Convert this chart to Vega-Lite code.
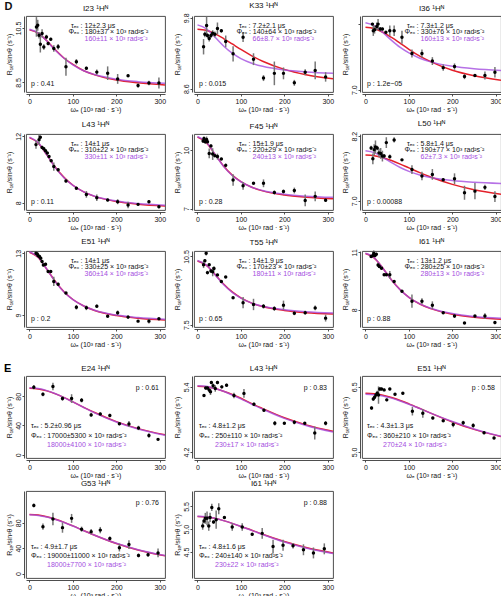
{
"$schema": "https://vega.github.io/schema/vega-lite/v6.json",
"padding": {"left": 3, "top": 1, "right": 0, "bottom": 0},
"background": "white",
"spacing": 14,
"config": {
  "font": "Liberation Sans",
  "view": {"stroke": "#3a3a3a", "strokeWidth": 0.9},
  "axis": {"grid": false, "domainColor": "#3a3a3a", "domainWidth": 0.9, "tickColor": "#3a3a3a", "tickWidth": 0.9, "tickSize": 2, "labelFontSize": 7, "labelColor": "#111", "labelPadding": 1, "titleFontSize": 7, "titleFontWeight": "normal", "titleColor": "#111", "titlePadding": 1, "offset": 2},
  "axisY": {"labelAngle": -90, "titlePadding": 2},
  "title": {"fontSize": 8, "fontWeight": "normal", "color": "#111", "offset": 3},
  "text": {"fontSize": 7, "baseline": "middle", "color": "#111"},
  "line": {"strokeWidth": 1.5, "interpolate": "monotone"},
  "circle": {"size": 12, "opacity": 1, "color": "#000"}
},
"datasets": {
"notes": [
{"p":"I23","k":"t","s":"τₑₓ : 12±2.3 μs"},{"p":"I23","k":"f","s":"Φₑₓ : 180±37 × 10³ rad²s⁻²"},{"p":"I23","k":"g","s":"160±11 × 10³ rad²s⁻²"},{"p":"I23","k":"p","s":"p : 0.41"},
{"p":"K33","k":"t","s":"τₑₓ : 7.2±2.1 μs"},{"p":"K33","k":"f","s":"Φₑₓ : 140±64 × 10³ rad²s⁻²"},{"p":"K33","k":"g","s":"66±8.7 × 10³ rad²s⁻²"},{"p":"K33","k":"p","s":"p : 0.015"},
{"p":"I36","k":"t","s":"τₑₓ : 7.3±1.2 μs"},{"p":"I36","k":"f","s":"Φₑₓ : 330±76 × 10³ rad²s⁻²"},{"p":"I36","k":"g","s":"160±13 × 10³ rad²s⁻²"},{"p":"I36","k":"p","s":"p : 1.2e−05"},
{"p":"L43","k":"t","s":"τₑₓ : 14±1 μs"},{"p":"L43","k":"f","s":"Φₑₓ : 310±22 × 10³ rad²s⁻²"},{"p":"L43","k":"g","s":"330±11 × 10³ rad²s⁻²"},{"p":"L43","k":"p","s":"p : 0.11"},
{"p":"F45","k":"t","s":"τₑₓ : 15±1.9 μs"},{"p":"F45","k":"f","s":"Φₑₓ : 220±29 × 10³ rad²s⁻²"},{"p":"F45","k":"g","s":"240±13 × 10³ rad²s⁻²"},{"p":"F45","k":"p","s":"p : 0.28"},
{"p":"L50","k":"t","s":"τₑₓ : 5.8±1.4 μs"},{"p":"L50","k":"f","s":"Φₑₓ : 190±77 × 10³ rad²s⁻²"},{"p":"L50","k":"g","s":"62±7.3 × 10³ rad²s⁻²"},{"p":"L50","k":"p","s":"p : 0.00088"},
{"p":"E51","k":"t","s":"τₑₓ : 14±1 μs"},{"p":"E51","k":"f","s":"Φₑₓ : 330±25 × 10³ rad²s⁻²"},{"p":"E51","k":"g","s":"360±14 × 10³ rad²s⁻²"},{"p":"E51","k":"p","s":"p : 0.2"},
{"p":"T55","k":"t","s":"τₑₓ : 14±1.9 μs"},{"p":"T55","k":"f","s":"Φₑₓ : 170±23 × 10³ rad²s⁻²"},{"p":"T55","k":"g","s":"180±11 × 10³ rad²s⁻²"},{"p":"T55","k":"p","s":"p : 0.65"},
{"p":"I61","k":"t","s":"τₑₓ : 13±1.2 μs"},{"p":"I61","k":"f","s":"Φₑₓ : 280±25 × 10³ rad²s⁻²"},{"p":"I61","k":"g","s":"280±13 × 10³ rad²s⁻²"},{"p":"I61","k":"p","s":"p : 0.88"},
{"p":"E24","k":"t","s":"τₑₓ : 5.2±0.96 μs"},{"p":"E24","k":"f","s":"Φₑₓ : 17000±5300 × 10³ rad²s⁻²"},{"p":"E24","k":"g","s":"18000±4100 × 10³ rad²s⁻²"},{"p":"E24","k":"p","s":"p : 0.61"},{"p":"E24","k":"L","s":"E"},
{"p":"L43e","k":"t","s":"τₑₓ : 4.8±1.2 μs"},{"p":"L43e","k":"f","s":"Φₑₓ : 250±110 × 10³ rad²s⁻²"},{"p":"L43e","k":"g","s":"230±17 × 10³ rad²s⁻²"},{"p":"L43e","k":"p","s":"p : 0.83"},
{"p":"E51e","k":"t","s":"τₑₓ : 4.3±1.3 μs"},{"p":"E51e","k":"f","s":"Φₑₓ : 360±210 × 10³ rad²s⁻²"},{"p":"E51e","k":"g","s":"270±24 × 10³ rad²s⁻²"},{"p":"E51e","k":"p","s":"p : 0.58"},
{"p":"G53","k":"t","s":"τₑₓ : 4.9±1.7 μs"},{"p":"G53","k":"f","s":"Φₑₓ : 19000±11000 × 10³ rad²s⁻²"},{"p":"G53","k":"g","s":"18000±7700 × 10³ rad²s⁻²"},{"p":"G53","k":"p","s":"p : 0.76"},
{"p":"I61e","k":"t","s":"τₑₓ : 4.8±1.6 μs"},{"p":"I61e","k":"f","s":"Φₑₓ : 240±140 × 10³ rad²s⁻²"},{"p":"I61e","k":"g","s":"230±22 × 10³ rad²s⁻²"},{"p":"I61e","k":"p","s":"p : 0.88"}
],
"pts": [
{"p":"I23","x":16,"y":10.54,"e":0.36},{"p":"I23","x":19,"y":10.6,"e":0.2},{"p":"I23","x":22,"y":10.23,"e":0.12},{"p":"I23","x":25,"y":9.9,"e":0.3},{"p":"I23","x":29,"y":10.3,"e":0.15},{"p":"I23","x":33,"y":9.8,"e":0.1},{"p":"I23","x":39,"y":10.17,"e":0.08},{"p":"I23","x":43,"y":9.93,"e":0.06},{"p":"I23","x":49,"y":10.09,"e":0.05},{"p":"I23","x":56,"y":9.75,"e":0.12},{"p":"I23","x":66,"y":9.81,"e":0.1},{"p":"I23","x":84,"y":9.08,"e":0.33},{"p":"I23","x":108,"y":9.26,"e":0.1},{"p":"I23","x":131,"y":9.02,"e":0.06},{"p":"I23","x":155,"y":8.88,"e":0.1},{"p":"I23","x":180,"y":8.84,"e":0.25},{"p":"I23","x":203,"y":8.63,"e":0.18},{"p":"I23","x":227,"y":8.75,"e":0.05},{"p":"I23","x":250,"y":8.39,"e":0.08},{"p":"I23","x":275,"y":8.48,"e":0.08},{"p":"I23","x":298,"y":8.48,"e":0.2},
{"p":"K33","x":14,"y":9.31,"e":0.13},{"p":"K33","x":17,"y":9.52,"e":0.05},{"p":"K33","x":21,"y":9.67,"e":0.15},{"p":"K33","x":23,"y":9.5,"e":0.04},{"p":"K33","x":27,"y":9.45,"e":0.05},{"p":"K33","x":31,"y":9.5,"e":0.04},{"p":"K33","x":35,"y":9.54,"e":0.05},{"p":"K33","x":40,"y":9.52,"e":0.05},{"p":"K33","x":46,"y":9.62,"e":0.1},{"p":"K33","x":55,"y":9.58,"e":0.03},{"p":"K33","x":65,"y":9.4,"e":0.1},{"p":"K33","x":82,"y":9.19,"e":0.13},{"p":"K33","x":105,"y":9.47,"e":0.08},{"p":"K33","x":129,"y":9.1,"e":0.1},{"p":"K33","x":152,"y":8.78,"e":0.05},{"p":"K33","x":177,"y":8.86,"e":0.2},{"p":"K33","x":198,"y":8.86,"e":0.1},{"p":"K33","x":223,"y":8.7,"e":0.05},{"p":"K33","x":248,"y":8.88,"e":0.05},{"p":"K33","x":271,"y":8.91,"e":0.15},{"p":"K33","x":295,"y":8.8,"e":0.08},
{"p":"I36","x":16,"y":9.5,"e":0.05},{"p":"I36","x":18,"y":9.25,"e":0.2},{"p":"I36","x":21,"y":9.29,"e":0.15},{"p":"I36","x":26,"y":9.41,"e":0.15},{"p":"I36","x":29,"y":9.5,"e":0.2},{"p":"I36","x":34,"y":9.31,"e":0.08},{"p":"I36","x":39,"y":9.31,"e":0.06},{"p":"I36","x":47,"y":9.19,"e":0.05},{"p":"I36","x":56,"y":9.25,"e":0.2},{"p":"I36","x":66,"y":9.25,"e":0.2},{"p":"I36","x":84,"y":9.0,"e":0.25},{"p":"I36","x":107,"y":8.38,"e":0.15},{"p":"I36","x":130,"y":8.38,"e":0.15},{"p":"I36","x":154,"y":8.09,"e":0.15},{"p":"I36","x":179,"y":7.84,"e":0.12},{"p":"I36","x":205,"y":7.88,"e":0.12},{"p":"I36","x":228,"y":7.5,"e":0.1},{"p":"I36","x":252,"y":7.54,"e":0.04},{"p":"I36","x":275,"y":7.54,"e":0.15},{"p":"I36","x":298,"y":7.66,"e":0.2},
{"p":"L43","x":15,"y":11.5,"e":0.25},{"p":"L43","x":22,"y":11.8,"e":0.3},{"p":"L43","x":25,"y":11.94,"e":0.1},{"p":"L43","x":29,"y":11.33,"e":0.1},{"p":"L43","x":33,"y":11.25,"e":0.1},{"p":"L43","x":37,"y":11.13,"e":0.08},{"p":"L43","x":41,"y":10.99,"e":0.08},{"p":"L43","x":45,"y":10.79,"e":0.06},{"p":"L43","x":50,"y":10.53,"e":0.08},{"p":"L43","x":56,"y":10.18,"e":0.25},{"p":"L43","x":66,"y":9.98,"e":0.1},{"p":"L43","x":84,"y":9.31,"e":0.1},{"p":"L43","x":108,"y":8.87,"e":0.08},{"p":"L43","x":131,"y":8.5,"e":0.2},{"p":"L43","x":155,"y":8.3,"e":0.2},{"p":"L43","x":180,"y":8.16,"e":0.08},{"p":"L43","x":203,"y":8.06,"e":0.15},{"p":"L43","x":227,"y":7.86,"e":0.2},{"p":"L43","x":250,"y":7.9,"e":0.08},{"p":"L43","x":275,"y":8.06,"e":0.1},{"p":"L43","x":298,"y":7.76,"e":0.1},
{"p":"F45","x":13,"y":10.47,"e":0.1},{"p":"F45","x":15,"y":10.6,"e":0.1},{"p":"F45","x":18,"y":10.43,"e":0.1},{"p":"F45","x":21,"y":10.55,"e":0.15},{"p":"F45","x":23,"y":10.43,"e":0.1},{"p":"F45","x":27,"y":9.83,"e":0.25},{"p":"F45","x":31,"y":10.22,"e":0.08},{"p":"F45","x":35,"y":9.8,"e":0.3},{"p":"F45","x":40,"y":9.72,"e":0.1},{"p":"F45","x":46,"y":9.67,"e":0.15},{"p":"F45","x":55,"y":9.55,"e":0.06},{"p":"F45","x":65,"y":9.22,"e":0.1},{"p":"F45","x":82,"y":8.47,"e":0.3},{"p":"F45","x":105,"y":8.17,"e":0.2},{"p":"F45","x":129,"y":8.3,"e":0.05},{"p":"F45","x":152,"y":8.3,"e":0.2},{"p":"F45","x":177,"y":7.83,"e":0.1},{"p":"F45","x":198,"y":7.88,"e":0.1},{"p":"F45","x":223,"y":7.93,"e":0.15},{"p":"F45","x":248,"y":7.42,"e":0.3},{"p":"F45","x":271,"y":7.63,"e":0.25},{"p":"F45","x":295,"y":7.43,"e":0.08},
{"p":"L50","x":13,"y":7.98,"e":0.04},{"p":"L50","x":17,"y":7.78,"e":0.1},{"p":"L50","x":20,"y":7.95,"e":0.1},{"p":"L50","x":23,"y":8.0,"e":0.12},{"p":"L50","x":27,"y":7.98,"e":0.04},{"p":"L50","x":31,"y":7.89,"e":0.08},{"p":"L50","x":35,"y":7.88,"e":0.1},{"p":"L50","x":39,"y":7.83,"e":0.1},{"p":"L50","x":43,"y":7.83,"e":0.04},{"p":"L50","x":48,"y":8.08,"e":0.1},{"p":"L50","x":56,"y":7.82,"e":0.04},{"p":"L50","x":66,"y":8.13,"e":0.05},{"p":"L50","x":84,"y":7.76,"e":0.02},{"p":"L50","x":107,"y":7.58,"e":0.08},{"p":"L50","x":130,"y":7.46,"e":0.08},{"p":"L50","x":154,"y":7.49,"e":0.1},{"p":"L50","x":179,"y":7.39,"e":0.03},{"p":"L50","x":205,"y":7.41,"e":0.1},{"p":"L50","x":228,"y":7.15,"e":0.13},{"p":"L50","x":252,"y":7.18,"e":0.15},{"p":"L50","x":275,"y":7.25,"e":0.05},{"p":"L50","x":298,"y":7.08,"e":0.1},
{"p":"E51","x":15,"y":13.0,"e":0.1},{"p":"E51","x":18,"y":12.95,"e":0.1},{"p":"E51","x":20,"y":12.85,"e":0.1},{"p":"E51","x":23,"y":12.79,"e":0.1},{"p":"E51","x":26,"y":12.68,"e":0.1},{"p":"E51","x":29,"y":12.47,"e":0.1},{"p":"E51","x":32,"y":12.25,"e":0.1},{"p":"E51","x":37,"y":12.29,"e":0.1},{"p":"E51","x":43,"y":11.82,"e":0.06},{"p":"E51","x":49,"y":11.82,"e":0.06},{"p":"E51","x":56,"y":11.18,"e":0.3},{"p":"E51","x":66,"y":11.0,"e":0.1},{"p":"E51","x":84,"y":10.43,"e":0.06},{"p":"E51","x":108,"y":9.51,"e":0.15},{"p":"E51","x":131,"y":9.47,"e":0.15},{"p":"E51","x":155,"y":9.58,"e":0.1},{"p":"E51","x":180,"y":8.93,"e":0.06},{"p":"E51","x":203,"y":9.15,"e":0.15},{"p":"E51","x":227,"y":8.87,"e":0.12},{"p":"E51","x":250,"y":8.61,"e":0.08},{"p":"E51","x":275,"y":8.61,"e":0.15},{"p":"E51","x":298,"y":8.76,"e":0.05},
{"p":"T55","x":14,"y":10.14,"e":0.15},{"p":"T55","x":17,"y":10.31,"e":0.08},{"p":"T55","x":20,"y":10.64,"e":0.1},{"p":"T55","x":23,"y":9.79,"e":0.08},{"p":"T55","x":27,"y":10.14,"e":0.05},{"p":"T55","x":31,"y":9.86,"e":0.08},{"p":"T55","x":35,"y":9.83,"e":0.2},{"p":"T55","x":38,"y":9.97,"e":0.1},{"p":"T55","x":46,"y":9.69,"e":0.05},{"p":"T55","x":55,"y":9.4,"e":0.05},{"p":"T55","x":65,"y":9.6,"e":0.04},{"p":"T55","x":82,"y":8.69,"e":0.04},{"p":"T55","x":105,"y":8.47,"e":0.25},{"p":"T55","x":129,"y":8.39,"e":0.25},{"p":"T55","x":152,"y":8.31,"e":0.1},{"p":"T55","x":177,"y":8.21,"e":0.1},{"p":"T55","x":198,"y":8.36,"e":0.2},{"p":"T55","x":223,"y":8.0,"e":0.08},{"p":"T55","x":248,"y":8.03,"e":0.08},{"p":"T55","x":271,"y":8.24,"e":0.1},{"p":"T55","x":295,"y":7.79,"e":0.15},
{"p":"I61","x":13,"y":10.78,"e":0.08},{"p":"I61","x":17,"y":10.83,"e":0.08},{"p":"I61","x":19,"y":10.95,"e":0.15},{"p":"I61","x":22,"y":10.83,"e":0.08},{"p":"I61","x":25,"y":10.9,"e":0.08},{"p":"I61","x":29,"y":10.34,"e":0.1},{"p":"I61","x":32,"y":10.26,"e":0.08},{"p":"I61","x":37,"y":10.17,"e":0.08},{"p":"I61","x":43,"y":9.83,"e":0.06},{"p":"I61","x":48,"y":9.83,"e":0.06},{"p":"I61","x":56,"y":9.83,"e":0.2},{"p":"I61","x":66,"y":9.48,"e":0.05},{"p":"I61","x":84,"y":8.97,"e":0.05},{"p":"I61","x":107,"y":8.45,"e":0.35},{"p":"I61","x":130,"y":8.45,"e":0.15},{"p":"I61","x":154,"y":8.24,"e":0.2},{"p":"I61","x":179,"y":7.84,"e":0.05},{"p":"I61","x":205,"y":7.67,"e":0.1},{"p":"I61","x":228,"y":7.31,"e":0.03},{"p":"I61","x":252,"y":7.67,"e":0.06},{"p":"I61","x":275,"y":7.67,"e":0.15},{"p":"I61","x":298,"y":7.33,"e":0.08},
{"p":"E24","x":10,"y":92.4,"e":3},{"p":"E24","x":31,"y":82.6,"e":2.5},{"p":"E24","x":54,"y":93.3,"e":5},{"p":"E24","x":76,"y":76.8,"e":3},{"p":"E24","x":97,"y":76.8,"e":6},{"p":"E24","x":120,"y":74.6,"e":3},{"p":"E24","x":142,"y":54.5,"e":3},{"p":"E24","x":163,"y":55.8,"e":2},{"p":"E24","x":185,"y":53.6,"e":2.5},{"p":"E24","x":207,"y":42.4,"e":2},{"p":"E24","x":229,"y":42,"e":4},{"p":"E24","x":251,"y":36.6,"e":3},{"p":"E24","x":275,"y":26.3,"e":3},{"p":"E24","x":296,"y":21,"e":1.5},
{"p":"L43e","x":15,"y":5.24,"e":0.02},{"p":"L43e","x":19,"y":5.38,"e":0.03},{"p":"L43e","x":23,"y":5.38,"e":0.03},{"p":"L43e","x":27,"y":5.34,"e":0.04},{"p":"L43e","x":30,"y":5.31,"e":0.06},{"p":"L43e","x":32,"y":5.48,"e":0.03},{"p":"L43e","x":36,"y":5.42,"e":0.04},{"p":"L43e","x":41,"y":5.37,"e":0.06},{"p":"L43e","x":46,"y":5.48,"e":0.03},{"p":"L43e","x":56,"y":5.4,"e":0.03},{"p":"L43e","x":67,"y":5.43,"e":0.03},{"p":"L43e","x":84,"y":5.24,"e":0.05},{"p":"L43e","x":107,"y":5.28,"e":0.08},{"p":"L43e","x":130,"y":5.08,"e":0.03},{"p":"L43e","x":153,"y":4.97,"e":0.03},{"p":"L43e","x":178,"y":4.73,"e":0.04},{"p":"L43e","x":200,"y":4.73,"e":0.02},{"p":"L43e","x":223,"y":4.75,"e":0.04},{"p":"L43e","x":247,"y":4.73,"e":0.02},{"p":"L43e","x":270,"y":4.55,"e":0.12},{"p":"L43e","x":295,"y":4.73,"e":0.04},
{"p":"E51e","x":14,"y":6.01,"e":0.04},{"p":"E51e","x":18,"y":6.22,"e":0.04},{"p":"E51e","x":21,"y":6.26,"e":0.04},{"p":"E51e","x":24,"y":6.31,"e":0.04},{"p":"E51e","x":27,"y":6.35,"e":0.06},{"p":"E51e","x":30,"y":6.31,"e":0.2},{"p":"E51e","x":33,"y":6.45,"e":0.04},{"p":"E51e","x":37,"y":6.45,"e":0.03},{"p":"E51e","x":43,"y":6.43,"e":0.03},{"p":"E51e","x":49,"y":6.2,"e":0.03},{"p":"E51e","x":56,"y":6.45,"e":0.03},{"p":"E51e","x":68,"y":6.33,"e":0.03},{"p":"E51e","x":86,"y":6.35,"e":0.03},{"p":"E51e","x":108,"y":5.94,"e":0.1},{"p":"E51e","x":132,"y":5.89,"e":0.1},{"p":"E51e","x":155,"y":5.78,"e":0.03},{"p":"E51e","x":179,"y":5.72,"e":0.03},{"p":"E51e","x":202,"y":5.63,"e":0.06},{"p":"E51e","x":225,"y":5.67,"e":0.05},{"p":"E51e","x":248,"y":5.61,"e":0.05},{"p":"E51e","x":273,"y":5.44,"e":0.03},{"p":"E51e","x":296,"y":5.32,"e":0.03},
{"p":"G53","x":10,"y":107.3,"e":3},{"p":"G53","x":31,"y":73.8,"e":5},{"p":"G53","x":54,"y":85.9,"e":10},{"p":"G53","x":76,"y":72.3,"e":8},{"p":"G53","x":97,"y":86.9,"e":7},{"p":"G53","x":120,"y":69.9,"e":4},{"p":"G53","x":142,"y":66,"e":4},{"p":"G53","x":163,"y":68.4,"e":5},{"p":"G53","x":185,"y":55.3,"e":3},{"p":"G53","x":207,"y":40.8,"e":6},{"p":"G53","x":229,"y":45.6,"e":7},{"p":"G53","x":251,"y":28.6,"e":3},{"p":"G53","x":273,"y":29.6,"e":3},{"p":"G53","x":296,"y":32.5,"e":7},
{"p":"I61e","x":12,"y":5.07,"e":0.08},{"p":"I61e","x":15,"y":5.18,"e":0.05},{"p":"I61e","x":18,"y":5.24,"e":0.12},{"p":"I61e","x":22,"y":5.24,"e":0.15},{"p":"I61e","x":26,"y":5.07,"e":0.1},{"p":"I61e","x":29,"y":5.26,"e":0.1},{"p":"I61e","x":33,"y":5.48,"e":0.08},{"p":"I61e","x":37,"y":5.16,"e":0.04},{"p":"I61e","x":43,"y":5.21,"e":0.2},{"p":"I61e","x":49,"y":5.45,"e":0.12},{"p":"I61e","x":62,"y":5.26,"e":0.03},{"p":"I61e","x":80,"y":5.05,"e":0.08},{"p":"I61e","x":103,"y":5.05,"e":0.08},{"p":"I61e","x":126,"y":4.89,"e":0.03},{"p":"I61e","x":149,"y":4.91,"e":0.12},{"p":"I61e","x":174,"y":4.62,"e":0.15},{"p":"I61e","x":197,"y":4.65,"e":0.12},{"p":"I61e","x":220,"y":4.64,"e":0.06},{"p":"I61e","x":244,"y":4.55,"e":0.12},{"p":"I61e","x":267,"y":4.48,"e":0.12},{"p":"I61e","x":292,"y":4.57,"e":0.12}
],
"fit": [
{"p":"I23","m":"a","x":0,"y":10.43},{"p":"I23","m":"a","x":20,"y":10.31},{"p":"I23","m":"a","x":40,"y":10.03},{"p":"I23","m":"a","x":60,"y":9.69},{"p":"I23","m":"a","x":80,"y":9.39},{"p":"I23","m":"a","x":100,"y":9.16},{"p":"I23","m":"a","x":125,"y":8.93},{"p":"I23","m":"a","x":150,"y":8.78},{"p":"I23","m":"a","x":200,"y":8.59},{"p":"I23","m":"a","x":250,"y":8.49},{"p":"I23","m":"a","x":312,"y":8.41},
{"p":"I23","m":"b","x":0,"y":10.45},{"p":"I23","m":"b","x":20,"y":10.32},{"p":"I23","m":"b","x":40,"y":10.02},{"p":"I23","m":"b","x":60,"y":9.67},{"p":"I23","m":"b","x":80,"y":9.38},{"p":"I23","m":"b","x":100,"y":9.15},{"p":"I23","m":"b","x":125,"y":8.93},{"p":"I23","m":"b","x":150,"y":8.79},{"p":"I23","m":"b","x":200,"y":8.62},{"p":"I23","m":"b","x":250,"y":8.53},{"p":"I23","m":"b","x":312,"y":8.47},
{"p":"K33","m":"a","x":0,"y":9.608},{"p":"K33","m":"a","x":20,"y":9.588},{"p":"K33","m":"a","x":40,"y":9.531},{"p":"K33","m":"a","x":60,"y":9.449},{"p":"K33","m":"a","x":80,"y":9.357},{"p":"K33","m":"a","x":100,"y":9.264},{"p":"K33","m":"a","x":125,"y":9.157},{"p":"K33","m":"a","x":150,"y":9.065},{"p":"K33","m":"a","x":200,"y":8.928},{"p":"K33","m":"a","x":250,"y":8.838},{"p":"K33","m":"a","x":312,"y":8.767},
{"p":"K33","m":"b","x":0,"y":9.68},{"p":"K33","m":"b","x":20,"y":9.617},{"p":"K33","m":"b","x":40,"y":9.475},{"p":"K33","m":"b","x":60,"y":9.324},{"p":"K33","m":"b","x":80,"y":9.201},{"p":"K33","m":"b","x":100,"y":9.11},{"p":"K33","m":"b","x":125,"y":9.032},{"p":"K33","m":"b","x":150,"y":8.979},{"p":"K33","m":"b","x":200,"y":8.917},{"p":"K33","m":"b","x":250,"y":8.885},{"p":"K33","m":"b","x":312,"y":8.863},
{"p":"I36","m":"a","x":0,"y":9.38},{"p":"I36","m":"a","x":20,"y":9.33},{"p":"I36","m":"a","x":40,"y":9.19},{"p":"I36","m":"a","x":60,"y":8.99},{"p":"I36","m":"a","x":80,"y":8.77},{"p":"I36","m":"a","x":100,"y":8.54},{"p":"I36","m":"a","x":125,"y":8.28},{"p":"I36","m":"a","x":150,"y":8.07},{"p":"I36","m":"a","x":200,"y":7.74},{"p":"I36","m":"a","x":250,"y":7.53},{"p":"I36","m":"a","x":312,"y":7.36},
{"p":"I36","m":"b","x":0,"y":9.55},{"p":"I36","m":"b","x":20,"y":9.44},{"p":"I36","m":"b","x":40,"y":9.18},{"p":"I36","m":"b","x":60,"y":8.88},{"p":"I36","m":"b","x":80,"y":8.61},{"p":"I36","m":"b","x":100,"y":8.40},{"p":"I36","m":"b","x":125,"y":8.20},{"p":"I36","m":"b","x":150,"y":8.06},{"p":"I36","m":"b","x":200,"y":7.89},{"p":"I36","m":"b","x":250,"y":7.795},{"p":"I36","m":"b","x":312,"y":7.73},
{"p":"L43","m":"a","x":0,"y":11.92},{"p":"L43","m":"a","x":20,"y":11.6},{"p":"L43","m":"a","x":40,"y":10.88},{"p":"L43","m":"a","x":60,"y":10.12},{"p":"L43","m":"a","x":80,"y":9.51},{"p":"L43","m":"a","x":100,"y":9.05},{"p":"L43","m":"a","x":125,"y":8.65},{"p":"L43","m":"a","x":150,"y":8.38},{"p":"L43","m":"a","x":200,"y":8.07},{"p":"L43","m":"a","x":250,"y":7.91},{"p":"L43","m":"a","x":312,"y":7.8},
{"p":"L43","m":"b","x":0,"y":11.95},{"p":"L43","m":"b","x":20,"y":11.62},{"p":"L43","m":"b","x":40,"y":10.88},{"p":"L43","m":"b","x":60,"y":10.1},{"p":"L43","m":"b","x":80,"y":9.49},{"p":"L43","m":"b","x":100,"y":9.04},{"p":"L43","m":"b","x":125,"y":8.65},{"p":"L43","m":"b","x":150,"y":8.39},{"p":"L43","m":"b","x":200,"y":8.1},{"p":"L43","m":"b","x":250,"y":7.95},{"p":"L43","m":"b","x":312,"y":7.85},
{"p":"F45","m":"a","x":0,"y":10.67},{"p":"F45","m":"a","x":20,"y":10.4},{"p":"F45","m":"a","x":40,"y":9.8},{"p":"F45","m":"a","x":60,"y":9.19},{"p":"F45","m":"a","x":80,"y":8.72},{"p":"F45","m":"a","x":100,"y":8.39},{"p":"F45","m":"a","x":125,"y":8.1},{"p":"F45","m":"a","x":150,"y":7.91},{"p":"F45","m":"a","x":200,"y":7.7},{"p":"F45","m":"a","x":250,"y":7.59},{"p":"F45","m":"a","x":312,"y":7.51},
{"p":"F45","m":"b","x":0,"y":10.7},{"p":"F45","m":"b","x":20,"y":10.42},{"p":"F45","m":"b","x":40,"y":9.8},{"p":"F45","m":"b","x":60,"y":9.17},{"p":"F45","m":"b","x":80,"y":8.7},{"p":"F45","m":"b","x":100,"y":8.38},{"p":"F45","m":"b","x":125,"y":8.1},{"p":"F45","m":"b","x":150,"y":7.93},{"p":"F45","m":"b","x":200,"y":7.74},{"p":"F45","m":"b","x":250,"y":7.64},{"p":"F45","m":"b","x":312,"y":7.58},
{"p":"L50","m":"a","x":0,"y":7.85},{"p":"L50","m":"a","x":20,"y":7.837},{"p":"L50","m":"a","x":40,"y":7.8},{"p":"L50","m":"a","x":60,"y":7.747},{"p":"L50","m":"a","x":80,"y":7.682},{"p":"L50","m":"a","x":100,"y":7.611},{"p":"L50","m":"a","x":125,"y":7.523},{"p":"L50","m":"a","x":150,"y":7.441},{"p":"L50","m":"a","x":200,"y":7.305},{"p":"L50","m":"a","x":250,"y":7.206},{"p":"L50","m":"a","x":312,"y":7.122},
{"p":"L50","m":"b","x":0,"y":7.93},{"p":"L50","m":"b","x":20,"y":7.895},{"p":"L50","m":"b","x":40,"y":7.808},{"p":"L50","m":"b","x":60,"y":7.708},{"p":"L50","m":"b","x":80,"y":7.618},{"p":"L50","m":"b","x":100,"y":7.546},{"p":"L50","m":"b","x":125,"y":7.48},{"p":"L50","m":"b","x":150,"y":7.433},{"p":"L50","m":"b","x":200,"y":7.376},{"p":"L50","m":"b","x":250,"y":7.345},{"p":"L50","m":"b","x":312,"y":7.323},
{"p":"E51","m":"a","x":0,"y":13.07},{"p":"E51","m":"a","x":20,"y":12.73},{"p":"E51","m":"a","x":40,"y":11.97},{"p":"E51","m":"a","x":60,"y":11.16},{"p":"E51","m":"a","x":80,"y":10.5},{"p":"E51","m":"a","x":100,"y":10.01},{"p":"E51","m":"a","x":125,"y":9.59},{"p":"E51","m":"a","x":150,"y":9.3},{"p":"E51","m":"a","x":200,"y":8.97},{"p":"E51","m":"a","x":250,"y":8.8},{"p":"E51","m":"a","x":312,"y":8.68},
{"p":"E51","m":"b","x":0,"y":13.1},{"p":"E51","m":"b","x":20,"y":12.75},{"p":"E51","m":"b","x":40,"y":11.97},{"p":"E51","m":"b","x":60,"y":11.14},{"p":"E51","m":"b","x":80,"y":10.48},{"p":"E51","m":"b","x":100,"y":10.0},{"p":"E51","m":"b","x":125,"y":9.59},{"p":"E51","m":"b","x":150,"y":9.31},{"p":"E51","m":"b","x":200,"y":9.0},{"p":"E51","m":"b","x":250,"y":8.84},{"p":"E51","m":"b","x":312,"y":8.73},
{"p":"T55","m":"a","x":0,"y":10.3},{"p":"T55","m":"a","x":20,"y":10.12},{"p":"T55","m":"a","x":40,"y":9.72},{"p":"T55","m":"a","x":60,"y":9.29},{"p":"T55","m":"a","x":80,"y":8.94},{"p":"T55","m":"a","x":100,"y":8.68},{"p":"T55","m":"a","x":125,"y":8.45},{"p":"T55","m":"a","x":150,"y":8.3},{"p":"T55","m":"a","x":200,"y":8.13},{"p":"T55","m":"a","x":250,"y":8.03},{"p":"T55","m":"a","x":312,"y":7.97},
{"p":"T55","m":"b","x":0,"y":10.32},{"p":"T55","m":"b","x":20,"y":10.13},{"p":"T55","m":"b","x":40,"y":9.71},{"p":"T55","m":"b","x":60,"y":9.27},{"p":"T55","m":"b","x":80,"y":8.92},{"p":"T55","m":"b","x":100,"y":8.67},{"p":"T55","m":"b","x":125,"y":8.45},{"p":"T55","m":"b","x":150,"y":8.31},{"p":"T55","m":"b","x":200,"y":8.16},{"p":"T55","m":"b","x":250,"y":8.07},{"p":"T55","m":"b","x":312,"y":8.01},
{"p":"I61","m":"a","x":0,"y":10.94},{"p":"I61","m":"a","x":20,"y":10.71},{"p":"I61","m":"a","x":40,"y":10.17},{"p":"I61","m":"a","x":60,"y":9.56},{"p":"I61","m":"a","x":80,"y":9.05},{"p":"I61","m":"a","x":100,"y":8.65},{"p":"I61","m":"a","x":125,"y":8.3},{"p":"I61","m":"a","x":150,"y":8.06},{"p":"I61","m":"a","x":200,"y":7.77},{"p":"I61","m":"a","x":250,"y":7.61},{"p":"I61","m":"a","x":312,"y":7.51},
{"p":"I61","m":"b","x":0,"y":10.95},{"p":"I61","m":"b","x":20,"y":10.72},{"p":"I61","m":"b","x":40,"y":10.17},{"p":"I61","m":"b","x":60,"y":9.55},{"p":"I61","m":"b","x":80,"y":9.04},{"p":"I61","m":"b","x":100,"y":8.65},{"p":"I61","m":"b","x":125,"y":8.31},{"p":"I61","m":"b","x":150,"y":8.08},{"p":"I61","m":"b","x":200,"y":7.8},{"p":"I61","m":"b","x":250,"y":7.65},{"p":"I61","m":"b","x":312,"y":7.56},
{"p":"E24","m":"a","x":0,"y":91},{"p":"E24","m":"a","x":20,"y":90.06},{"p":"E24","m":"a","x":40,"y":87.35},{"p":"E24","m":"a","x":60,"y":83.19},{"p":"E24","m":"a","x":80,"y":78.02},{"p":"E24","m":"a","x":100,"y":72.27},{"p":"E24","m":"a","x":125,"y":64.86},{"p":"E24","m":"a","x":150,"y":57.71},{"p":"E24","m":"a","x":200,"y":45.28},{"p":"E24","m":"a","x":250,"y":35.71},{"p":"E24","m":"a","x":312,"y":27.2},
{"p":"E24","m":"b","x":0,"y":91.5},{"p":"E24","m":"b","x":20,"y":90.5},{"p":"E24","m":"b","x":40,"y":87.7},{"p":"E24","m":"b","x":60,"y":83.4},{"p":"E24","m":"b","x":80,"y":78.1},{"p":"E24","m":"b","x":100,"y":72.2},{"p":"E24","m":"b","x":125,"y":64.6},{"p":"E24","m":"b","x":150,"y":57.3},{"p":"E24","m":"b","x":200,"y":44.7},{"p":"E24","m":"b","x":250,"y":35.1},{"p":"E24","m":"b","x":312,"y":26.6},
{"p":"L43e","m":"a","x":0,"y":5.41},{"p":"L43e","m":"a","x":20,"y":5.4},{"p":"L43e","m":"a","x":40,"y":5.37},{"p":"L43e","m":"a","x":60,"y":5.32},{"p":"L43e","m":"a","x":80,"y":5.26},{"p":"L43e","m":"a","x":100,"y":5.19},{"p":"L43e","m":"a","x":125,"y":5.09},{"p":"L43e","m":"a","x":150,"y":5.0},{"p":"L43e","m":"a","x":200,"y":4.83},{"p":"L43e","m":"a","x":250,"y":4.7},{"p":"L43e","m":"a","x":312,"y":4.58},
{"p":"L43e","m":"b","x":0,"y":5.42},{"p":"L43e","m":"b","x":20,"y":5.41},{"p":"L43e","m":"b","x":40,"y":5.37},{"p":"L43e","m":"b","x":60,"y":5.32},{"p":"L43e","m":"b","x":80,"y":5.25},{"p":"L43e","m":"b","x":100,"y":5.18},{"p":"L43e","m":"b","x":125,"y":5.08},{"p":"L43e","m":"b","x":150,"y":4.99},{"p":"L43e","m":"b","x":200,"y":4.82},{"p":"L43e","m":"b","x":250,"y":4.69},{"p":"L43e","m":"b","x":312,"y":4.57},
{"p":"E51e","m":"a","x":0,"y":6.35},{"p":"E51e","m":"a","x":20,"y":6.339},{"p":"E51e","m":"a","x":40,"y":6.306},{"p":"E51e","m":"a","x":60,"y":6.253},{"p":"E51e","m":"a","x":80,"y":6.186},{"p":"E51e","m":"a","x":100,"y":6.108},{"p":"E51e","m":"a","x":125,"y":6.003},{"p":"E51e","m":"a","x":150,"y":5.895},{"p":"E51e","m":"a","x":200,"y":5.691},{"p":"E51e","m":"a","x":250,"y":5.519},{"p":"E51e","m":"a","x":312,"y":5.353},
{"p":"E51e","m":"b","x":0,"y":6.33},{"p":"E51e","m":"b","x":20,"y":6.32},{"p":"E51e","m":"b","x":40,"y":6.29},{"p":"E51e","m":"b","x":60,"y":6.24},{"p":"E51e","m":"b","x":80,"y":6.175},{"p":"E51e","m":"b","x":100,"y":6.1},{"p":"E51e","m":"b","x":125,"y":6.0},{"p":"E51e","m":"b","x":150,"y":5.895},{"p":"E51e","m":"b","x":200,"y":5.7},{"p":"E51e","m":"b","x":250,"y":5.53},{"p":"E51e","m":"b","x":312,"y":5.36},
{"p":"G53","m":"a","x":0,"y":93},{"p":"G53","m":"a","x":20,"y":92.1},{"p":"G53","m":"a","x":40,"y":89.6},{"p":"G53","m":"a","x":60,"y":85.6},{"p":"G53","m":"a","x":80,"y":80.6},{"p":"G53","m":"a","x":100,"y":75.0},{"p":"G53","m":"a","x":125,"y":67.6},{"p":"G53","m":"a","x":150,"y":60.4},{"p":"G53","m":"a","x":200,"y":47.4},{"p":"G53","m":"a","x":250,"y":37.2},{"p":"G53","m":"a","x":312,"y":27.9},
{"p":"G53","m":"b","x":0,"y":92.5},{"p":"G53","m":"b","x":20,"y":91.6},{"p":"G53","m":"b","x":40,"y":89.1},{"p":"G53","m":"b","x":60,"y":85.2},{"p":"G53","m":"b","x":80,"y":80.3},{"p":"G53","m":"b","x":100,"y":74.8},{"p":"G53","m":"b","x":125,"y":67.5},{"p":"G53","m":"b","x":150,"y":60.4},{"p":"G53","m":"b","x":200,"y":47.6},{"p":"G53","m":"b","x":250,"y":37.5},{"p":"G53","m":"b","x":312,"y":28.3},
{"p":"I61e","m":"a","x":0,"y":5.28},{"p":"I61e","m":"a","x":20,"y":5.27},{"p":"I61e","m":"a","x":40,"y":5.24},{"p":"I61e","m":"a","x":60,"y":5.19},{"p":"I61e","m":"a","x":80,"y":5.13},{"p":"I61e","m":"a","x":100,"y":5.06},{"p":"I61e","m":"a","x":125,"y":4.98},{"p":"I61e","m":"a","x":150,"y":4.89},{"p":"I61e","m":"a","x":200,"y":4.73},{"p":"I61e","m":"a","x":250,"y":4.6},{"p":"I61e","m":"a","x":312,"y":4.48},
{"p":"I61e","m":"b","x":0,"y":5.285},{"p":"I61e","m":"b","x":20,"y":5.275},{"p":"I61e","m":"b","x":40,"y":5.24},{"p":"I61e","m":"b","x":60,"y":5.19},{"p":"I61e","m":"b","x":80,"y":5.13},{"p":"I61e","m":"b","x":100,"y":5.06},{"p":"I61e","m":"b","x":125,"y":4.975},{"p":"I61e","m":"b","x":150,"y":4.885},{"p":"I61e","m":"b","x":200,"y":4.72},{"p":"I61e","m":"b","x":250,"y":4.59},{"p":"I61e","m":"b","x":312,"y":4.47}
]
},
"vconcat": [
{
"title": {"text": "D", "anchor": "start", "fontSize": 11, "fontWeight": "bold", "offset": -11},
"spacing": 6,
"vconcat": [
{"spacing": 5, "hconcat": [
{"title": "I23 ¹Hᴺ", "width": 139, "height": 76,
 "layer": [
  {"data": {"name": "fit"}, "transform": [{"filter": "datum.p == 'I23' && datum.m == 'a'"}], "mark": {"type": "line", "color": "#e3202a", "clip": true},
   "encoding": {"x": {"field": "x", "type": "quantitative", "title": "ωₑ (10³ rad · s⁻¹)", "scale": {"domain": [-8, 312]}, "axis": {"values": [0,50,100,150,200,250,300]}},
    "y": {"field": "y", "type": "quantitative", "title": "R₁ᵨ/sin²θ (s⁻¹)", "scale": {"domain": [8.15, 10.94]}, "axis": {"values": [8.5,9,9.5,10,10.5], "format": ".1f", "labelExpr": "datum.value % 1 == 0.5 ? datum.label : ''"}}}},
  {"data": {"name": "fit"}, "transform": [{"filter": "datum.p == 'I23' && datum.m == 'b'"}], "mark": {"type": "line", "color": "#a44de0", "opacity": 0.8, "clip": true}, "encoding": {"x": {"field": "x", "type": "quantitative", "title": "ωₑ (10³ rad · s⁻¹)", "scale": {"domain": [-8, 312]}}, "y": {"field": "y", "type": "quantitative", "title": "R₁ᵨ/sin²θ (s⁻¹)", "scale": {"domain": [8.15, 10.94]}}}},
  {"data": {"name": "pts"}, "transform": [{"filter": "datum.p == 'I23'"}], "mark": {"type": "errorbar", "color": "#777", "thickness": 1.5}, "encoding": {"x": {"field": "x", "type": "quantitative", "title": "ωₑ (10³ rad · s⁻¹)", "scale": {"domain": [-8, 312]}}, "y": {"field": "y", "type": "quantitative", "title": "R₁ᵨ/sin²θ (s⁻¹)", "scale": {"domain": [8.15, 10.94]}}, "yError": {"field": "e"}}},
  {"data": {"name": "pts"}, "transform": [{"filter": "datum.p == 'I23'"}], "mark": {"type": "circle"}, "encoding": {"x": {"field": "x", "type": "quantitative", "title": "ωₑ (10³ rad · s⁻¹)", "scale": {"domain": [-8, 312]}}, "y": {"field": "y", "type": "quantitative", "title": "R₁ᵨ/sin²θ (s⁻¹)", "scale": {"domain": [8.15, 10.94]}}}},
  {"data": {"name": "notes"}, "transform": [{"filter": "datum.p == 'I23' && datum.k == 't'"}], "mark": {"type": "text", "align": "left", "dx": 45, "dy": 9.5}, "encoding": {"text": {"field": "s"}, "x": {"datum": -8, "type": "quantitative", "title": "ωₑ (10³ rad · s⁻¹)", "scale": {"domain": [-8, 312]}}, "y": {"datum": 10.94, "type": "quantitative", "title": "R₁ᵨ/sin²θ (s⁻¹)", "scale": {"domain": [8.15, 10.94]}}}},
  {"data": {"name": "notes"}, "transform": [{"filter": "datum.p == 'I23' && datum.k == 'f'"}], "mark": {"type": "text", "align": "left", "dx": 42.5, "dy": 16.2}, "encoding": {"text": {"field": "s"}, "x": {"datum": -8, "type": "quantitative", "title": "ωₑ (10³ rad · s⁻¹)", "scale": {"domain": [-8, 312]}}, "y": {"datum": 10.94, "type": "quantitative", "title": "R₁ᵨ/sin²θ (s⁻¹)", "scale": {"domain": [8.15, 10.94]}}}},
  {"data": {"name": "notes"}, "transform": [{"filter": "datum.p == 'I23' && datum.k == 'g'"}], "mark": {"type": "text", "align": "left", "dx": 58.5, "dy": 23, "color": "#a44de0"}, "encoding": {"text": {"field": "s"}, "x": {"datum": -8, "type": "quantitative", "title": "ωₑ (10³ rad · s⁻¹)", "scale": {"domain": [-8, 312]}}, "y": {"datum": 10.94, "type": "quantitative", "title": "R₁ᵨ/sin²θ (s⁻¹)", "scale": {"domain": [8.15, 10.94]}}}},
  {"data": {"name": "notes"}, "transform": [{"filter": "datum.p == 'I23' && datum.k == 'p'"}], "mark": {"type": "text", "align": "left", "dx": 5, "dy": -8}, "encoding": {"text": {"field": "s"}, "x": {"datum": -8, "type": "quantitative", "title": "ωₑ (10³ rad · s⁻¹)", "scale": {"domain": [-8, 312]}}, "y": {"datum": 8.15, "type": "quantitative", "title": "R₁ᵨ/sin²θ (s⁻¹)", "scale": {"domain": [8.15, 10.94]}}}}
 ]},
{"title": "K33 ¹Hᴺ", "width": 139, "height": 76,
 "layer": [
  {"data": {"name": "fit"}, "transform": [{"filter": "datum.p == 'K33' && datum.m == 'a'"}], "mark": {"type": "line", "color": "#e3202a", "clip": true},
   "encoding": {"x": {"field": "x", "type": "quantitative", "title": "ωₑ (10³ rad · s⁻¹)", "scale": {"domain": [-8, 312]}, "axis": {"values": [0,50,100,150,200,250,300]}},
    "y": {"field": "y", "type": "quantitative", "title": "R₁ᵨ/sin²θ (s⁻¹)", "scale": {"domain": [8.545, 9.83]}, "axis": {"values": [8.6,8.8,9,9.2,9.4,9.6,9.8], "format": ".1f", "labelExpr": "round(datum.value * 10) % 4 == 2 ? datum.label : ''"}}}},
  {"data": {"name": "fit"}, "transform": [{"filter": "datum.p == 'K33' && datum.m == 'b'"}], "mark": {"type": "line", "color": "#a44de0", "opacity": 0.8, "clip": true}, "encoding": {"x": {"field": "x", "type": "quantitative", "title": "ωₑ (10³ rad · s⁻¹)", "scale": {"domain": [-8, 312]}}, "y": {"field": "y", "type": "quantitative", "title": "R₁ᵨ/sin²θ (s⁻¹)", "scale": {"domain": [8.545, 9.83]}}}},
  {"data": {"name": "pts"}, "transform": [{"filter": "datum.p == 'K33'"}], "mark": {"type": "errorbar", "color": "#777", "thickness": 1.5}, "encoding": {"x": {"field": "x", "type": "quantitative", "title": "ωₑ (10³ rad · s⁻¹)", "scale": {"domain": [-8, 312]}}, "y": {"field": "y", "type": "quantitative", "title": "R₁ᵨ/sin²θ (s⁻¹)", "scale": {"domain": [8.545, 9.83]}}, "yError": {"field": "e"}}},
  {"data": {"name": "pts"}, "transform": [{"filter": "datum.p == 'K33'"}], "mark": {"type": "circle"}, "encoding": {"x": {"field": "x", "type": "quantitative", "title": "ωₑ (10³ rad · s⁻¹)", "scale": {"domain": [-8, 312]}}, "y": {"field": "y", "type": "quantitative", "title": "R₁ᵨ/sin²θ (s⁻¹)", "scale": {"domain": [8.545, 9.83]}}}},
  {"data": {"name": "notes"}, "transform": [{"filter": "datum.p == 'K33' && datum.k == 't'"}], "mark": {"type": "text", "align": "left", "dx": 45, "dy": 9.5}, "encoding": {"text": {"field": "s"}, "x": {"datum": -8, "type": "quantitative", "title": "ωₑ (10³ rad · s⁻¹)", "scale": {"domain": [-8, 312]}}, "y": {"datum": 9.83, "type": "quantitative", "title": "R₁ᵨ/sin²θ (s⁻¹)", "scale": {"domain": [8.545, 9.83]}}}},
  {"data": {"name": "notes"}, "transform": [{"filter": "datum.p == 'K33' && datum.k == 'f'"}], "mark": {"type": "text", "align": "left", "dx": 42.5, "dy": 16.2}, "encoding": {"text": {"field": "s"}, "x": {"datum": -8, "type": "quantitative", "title": "ωₑ (10³ rad · s⁻¹)", "scale": {"domain": [-8, 312]}}, "y": {"datum": 9.83, "type": "quantitative", "title": "R₁ᵨ/sin²θ (s⁻¹)", "scale": {"domain": [8.545, 9.83]}}}},
  {"data": {"name": "notes"}, "transform": [{"filter": "datum.p == 'K33' && datum.k == 'g'"}], "mark": {"type": "text", "align": "left", "dx": 58.5, "dy": 23, "color": "#a44de0"}, "encoding": {"text": {"field": "s"}, "x": {"datum": -8, "type": "quantitative", "title": "ωₑ (10³ rad · s⁻¹)", "scale": {"domain": [-8, 312]}}, "y": {"datum": 9.83, "type": "quantitative", "title": "R₁ᵨ/sin²θ (s⁻¹)", "scale": {"domain": [8.545, 9.83]}}}},
  {"data": {"name": "notes"}, "transform": [{"filter": "datum.p == 'K33' && datum.k == 'p'"}], "mark": {"type": "text", "align": "left", "dx": 5, "dy": -8}, "encoding": {"text": {"field": "s"}, "x": {"datum": -8, "type": "quantitative", "title": "ωₑ (10³ rad · s⁻¹)", "scale": {"domain": [-8, 312]}}, "y": {"datum": 8.545, "type": "quantitative", "title": "R₁ᵨ/sin²θ (s⁻¹)", "scale": {"domain": [8.545, 9.83]}}}}
 ]},
{"title": "I36 ¹Hᴺ", "width": 139, "height": 76,
 "layer": [
  {"data": {"name": "fit"}, "transform": [{"filter": "datum.p == 'I36' && datum.m == 'a'"}], "mark": {"type": "line", "color": "#e3202a", "clip": true},
   "encoding": {"x": {"field": "x", "type": "quantitative", "title": "ωₑ (10³ rad · s⁻¹)", "scale": {"domain": [-8, 312]}, "axis": {"values": [0,50,100,150,200,250,300]}},
    "y": {"field": "y", "type": "quantitative", "title": "R₁ᵨ/sin²θ (s⁻¹)", "scale": {"domain": [6.91, 9.81]}, "axis": {"values": [7,7.5,8,8.5,9,9.5], "format": ".1f", "labelExpr": "datum.value % 1 == 0 ? datum.label : ''"}}}},
  {"data": {"name": "fit"}, "transform": [{"filter": "datum.p == 'I36' && datum.m == 'b'"}], "mark": {"type": "line", "color": "#a44de0", "opacity": 0.8, "clip": true}, "encoding": {"x": {"field": "x", "type": "quantitative", "title": "ωₑ (10³ rad · s⁻¹)", "scale": {"domain": [-8, 312]}}, "y": {"field": "y", "type": "quantitative", "title": "R₁ᵨ/sin²θ (s⁻¹)", "scale": {"domain": [6.91, 9.81]}}}},
  {"data": {"name": "pts"}, "transform": [{"filter": "datum.p == 'I36'"}], "mark": {"type": "errorbar", "color": "#777", "thickness": 1.5}, "encoding": {"x": {"field": "x", "type": "quantitative", "title": "ωₑ (10³ rad · s⁻¹)", "scale": {"domain": [-8, 312]}}, "y": {"field": "y", "type": "quantitative", "title": "R₁ᵨ/sin²θ (s⁻¹)", "scale": {"domain": [6.91, 9.81]}}, "yError": {"field": "e"}}},
  {"data": {"name": "pts"}, "transform": [{"filter": "datum.p == 'I36'"}], "mark": {"type": "circle"}, "encoding": {"x": {"field": "x", "type": "quantitative", "title": "ωₑ (10³ rad · s⁻¹)", "scale": {"domain": [-8, 312]}}, "y": {"field": "y", "type": "quantitative", "title": "R₁ᵨ/sin²θ (s⁻¹)", "scale": {"domain": [6.91, 9.81]}}}},
  {"data": {"name": "notes"}, "transform": [{"filter": "datum.p == 'I36' && datum.k == 't'"}], "mark": {"type": "text", "align": "left", "dx": 45, "dy": 9.5}, "encoding": {"text": {"field": "s"}, "x": {"datum": -8, "type": "quantitative", "title": "ωₑ (10³ rad · s⁻¹)", "scale": {"domain": [-8, 312]}}, "y": {"datum": 9.81, "type": "quantitative", "title": "R₁ᵨ/sin²θ (s⁻¹)", "scale": {"domain": [6.91, 9.81]}}}},
  {"data": {"name": "notes"}, "transform": [{"filter": "datum.p == 'I36' && datum.k == 'f'"}], "mark": {"type": "text", "align": "left", "dx": 42.5, "dy": 16.2}, "encoding": {"text": {"field": "s"}, "x": {"datum": -8, "type": "quantitative", "title": "ωₑ (10³ rad · s⁻¹)", "scale": {"domain": [-8, 312]}}, "y": {"datum": 9.81, "type": "quantitative", "title": "R₁ᵨ/sin²θ (s⁻¹)", "scale": {"domain": [6.91, 9.81]}}}},
  {"data": {"name": "notes"}, "transform": [{"filter": "datum.p == 'I36' && datum.k == 'g'"}], "mark": {"type": "text", "align": "left", "dx": 58.5, "dy": 23, "color": "#a44de0"}, "encoding": {"text": {"field": "s"}, "x": {"datum": -8, "type": "quantitative", "title": "ωₑ (10³ rad · s⁻¹)", "scale": {"domain": [-8, 312]}}, "y": {"datum": 9.81, "type": "quantitative", "title": "R₁ᵨ/sin²θ (s⁻¹)", "scale": {"domain": [6.91, 9.81]}}}},
  {"data": {"name": "notes"}, "transform": [{"filter": "datum.p == 'I36' && datum.k == 'p'"}], "mark": {"type": "text", "align": "left", "dx": 5, "dy": -8}, "encoding": {"text": {"field": "s"}, "x": {"datum": -8, "type": "quantitative", "title": "ωₑ (10³ rad · s⁻¹)", "scale": {"domain": [-8, 312]}}, "y": {"datum": 6.91, "type": "quantitative", "title": "R₁ᵨ/sin²θ (s⁻¹)", "scale": {"domain": [6.91, 9.81]}}}}
 ]}
]},
{"spacing": 5, "hconcat": [
{"title": "L43 ¹Hᴺ", "width": 139, "height": 76,
 "layer": [
  {"data": {"name": "fit"}, "transform": [{"filter": "datum.p == 'L43' && datum.m == 'a'"}], "mark": {"type": "line", "color": "#e3202a", "clip": true},
   "encoding": {"x": {"field": "x", "type": "quantitative", "title": "ωₑ (10³ rad · s⁻¹)", "scale": {"domain": [-8, 312]}, "axis": {"values": [0,50,100,150,200,250,300]}},
    "y": {"field": "y", "type": "quantitative", "title": "R₁ᵨ/sin²θ (s⁻¹)", "scale": {"domain": [7.56, 12.14]}, "axis": {"values": [8,9,10,11,12], "format": "d"}}}},
  {"data": {"name": "fit"}, "transform": [{"filter": "datum.p == 'L43' && datum.m == 'b'"}], "mark": {"type": "line", "color": "#a44de0", "opacity": 0.8, "clip": true}, "encoding": {"x": {"field": "x", "type": "quantitative", "title": "ωₑ (10³ rad · s⁻¹)", "scale": {"domain": [-8, 312]}}, "y": {"field": "y", "type": "quantitative", "title": "R₁ᵨ/sin²θ (s⁻¹)", "scale": {"domain": [7.56, 12.14]}}}},
  {"data": {"name": "pts"}, "transform": [{"filter": "datum.p == 'L43'"}], "mark": {"type": "errorbar", "color": "#777", "thickness": 1.5}, "encoding": {"x": {"field": "x", "type": "quantitative", "title": "ωₑ (10³ rad · s⁻¹)", "scale": {"domain": [-8, 312]}}, "y": {"field": "y", "type": "quantitative", "title": "R₁ᵨ/sin²θ (s⁻¹)", "scale": {"domain": [7.56, 12.14]}}, "yError": {"field": "e"}}},
  {"data": {"name": "pts"}, "transform": [{"filter": "datum.p == 'L43'"}], "mark": {"type": "circle"}, "encoding": {"x": {"field": "x", "type": "quantitative", "title": "ωₑ (10³ rad · s⁻¹)", "scale": {"domain": [-8, 312]}}, "y": {"field": "y", "type": "quantitative", "title": "R₁ᵨ/sin²θ (s⁻¹)", "scale": {"domain": [7.56, 12.14]}}}},
  {"data": {"name": "notes"}, "transform": [{"filter": "datum.p == 'L43' && datum.k == 't'"}], "mark": {"type": "text", "align": "left", "dx": 45, "dy": 9.5}, "encoding": {"text": {"field": "s"}, "x": {"datum": -8, "type": "quantitative", "title": "ωₑ (10³ rad · s⁻¹)", "scale": {"domain": [-8, 312]}}, "y": {"datum": 12.14, "type": "quantitative", "title": "R₁ᵨ/sin²θ (s⁻¹)", "scale": {"domain": [7.56, 12.14]}}}},
  {"data": {"name": "notes"}, "transform": [{"filter": "datum.p == 'L43' && datum.k == 'f'"}], "mark": {"type": "text", "align": "left", "dx": 42.5, "dy": 16.2}, "encoding": {"text": {"field": "s"}, "x": {"datum": -8, "type": "quantitative", "title": "ωₑ (10³ rad · s⁻¹)", "scale": {"domain": [-8, 312]}}, "y": {"datum": 12.14, "type": "quantitative", "title": "R₁ᵨ/sin²θ (s⁻¹)", "scale": {"domain": [7.56, 12.14]}}}},
  {"data": {"name": "notes"}, "transform": [{"filter": "datum.p == 'L43' && datum.k == 'g'"}], "mark": {"type": "text", "align": "left", "dx": 58.5, "dy": 23, "color": "#a44de0"}, "encoding": {"text": {"field": "s"}, "x": {"datum": -8, "type": "quantitative", "title": "ωₑ (10³ rad · s⁻¹)", "scale": {"domain": [-8, 312]}}, "y": {"datum": 12.14, "type": "quantitative", "title": "R₁ᵨ/sin²θ (s⁻¹)", "scale": {"domain": [7.56, 12.14]}}}},
  {"data": {"name": "notes"}, "transform": [{"filter": "datum.p == 'L43' && datum.k == 'p'"}], "mark": {"type": "text", "align": "left", "dx": 5, "dy": -8}, "encoding": {"text": {"field": "s"}, "x": {"datum": -8, "type": "quantitative", "title": "ωₑ (10³ rad · s⁻¹)", "scale": {"domain": [-8, 312]}}, "y": {"datum": 7.56, "type": "quantitative", "title": "R₁ᵨ/sin²θ (s⁻¹)", "scale": {"domain": [7.56, 12.14]}}}}
 ]},
{"title": "F45 ¹Hᴺ", "width": 139, "height": 76,
 "layer": [
  {"data": {"name": "fit"}, "transform": [{"filter": "datum.p == 'F45' && datum.m == 'a'"}], "mark": {"type": "line", "color": "#e3202a", "clip": true},
   "encoding": {"x": {"field": "x", "type": "quantitative", "title": "ωₑ (10³ rad · s⁻¹)", "scale": {"domain": [-8, 312]}, "axis": {"values": [0,50,100,150,200,250,300]}},
    "y": {"field": "y", "type": "quantitative", "title": "R₁ᵨ/sin²θ (s⁻¹)", "scale": {"domain": [6.93, 10.83]}, "axis": {"values": [7,8,9,10], "format": "d"}}}},
  {"data": {"name": "fit"}, "transform": [{"filter": "datum.p == 'F45' && datum.m == 'b'"}], "mark": {"type": "line", "color": "#a44de0", "opacity": 0.8, "clip": true}, "encoding": {"x": {"field": "x", "type": "quantitative", "title": "ωₑ (10³ rad · s⁻¹)", "scale": {"domain": [-8, 312]}}, "y": {"field": "y", "type": "quantitative", "title": "R₁ᵨ/sin²θ (s⁻¹)", "scale": {"domain": [6.93, 10.83]}}}},
  {"data": {"name": "pts"}, "transform": [{"filter": "datum.p == 'F45'"}], "mark": {"type": "errorbar", "color": "#777", "thickness": 1.5}, "encoding": {"x": {"field": "x", "type": "quantitative", "title": "ωₑ (10³ rad · s⁻¹)", "scale": {"domain": [-8, 312]}}, "y": {"field": "y", "type": "quantitative", "title": "R₁ᵨ/sin²θ (s⁻¹)", "scale": {"domain": [6.93, 10.83]}}, "yError": {"field": "e"}}},
  {"data": {"name": "pts"}, "transform": [{"filter": "datum.p == 'F45'"}], "mark": {"type": "circle"}, "encoding": {"x": {"field": "x", "type": "quantitative", "title": "ωₑ (10³ rad · s⁻¹)", "scale": {"domain": [-8, 312]}}, "y": {"field": "y", "type": "quantitative", "title": "R₁ᵨ/sin²θ (s⁻¹)", "scale": {"domain": [6.93, 10.83]}}}},
  {"data": {"name": "notes"}, "transform": [{"filter": "datum.p == 'F45' && datum.k == 't'"}], "mark": {"type": "text", "align": "left", "dx": 45, "dy": 9.5}, "encoding": {"text": {"field": "s"}, "x": {"datum": -8, "type": "quantitative", "title": "ωₑ (10³ rad · s⁻¹)", "scale": {"domain": [-8, 312]}}, "y": {"datum": 10.83, "type": "quantitative", "title": "R₁ᵨ/sin²θ (s⁻¹)", "scale": {"domain": [6.93, 10.83]}}}},
  {"data": {"name": "notes"}, "transform": [{"filter": "datum.p == 'F45' && datum.k == 'f'"}], "mark": {"type": "text", "align": "left", "dx": 42.5, "dy": 16.2}, "encoding": {"text": {"field": "s"}, "x": {"datum": -8, "type": "quantitative", "title": "ωₑ (10³ rad · s⁻¹)", "scale": {"domain": [-8, 312]}}, "y": {"datum": 10.83, "type": "quantitative", "title": "R₁ᵨ/sin²θ (s⁻¹)", "scale": {"domain": [6.93, 10.83]}}}},
  {"data": {"name": "notes"}, "transform": [{"filter": "datum.p == 'F45' && datum.k == 'g'"}], "mark": {"type": "text", "align": "left", "dx": 58.5, "dy": 23, "color": "#a44de0"}, "encoding": {"text": {"field": "s"}, "x": {"datum": -8, "type": "quantitative", "title": "ωₑ (10³ rad · s⁻¹)", "scale": {"domain": [-8, 312]}}, "y": {"datum": 10.83, "type": "quantitative", "title": "R₁ᵨ/sin²θ (s⁻¹)", "scale": {"domain": [6.93, 10.83]}}}},
  {"data": {"name": "notes"}, "transform": [{"filter": "datum.p == 'F45' && datum.k == 'p'"}], "mark": {"type": "text", "align": "left", "dx": 5, "dy": -8}, "encoding": {"text": {"field": "s"}, "x": {"datum": -8, "type": "quantitative", "title": "ωₑ (10³ rad · s⁻¹)", "scale": {"domain": [-8, 312]}}, "y": {"datum": 6.93, "type": "quantitative", "title": "R₁ᵨ/sin²θ (s⁻¹)", "scale": {"domain": [6.93, 10.83]}}}}
 ]},
{"title": "L50 ¹Hᴺ", "width": 139, "height": 76,
 "layer": [
  {"data": {"name": "fit"}, "transform": [{"filter": "datum.p == 'L50' && datum.m == 'a'"}], "mark": {"type": "line", "color": "#e3202a", "clip": true},
   "encoding": {"x": {"field": "x", "type": "quantitative", "title": "ωₑ (10³ rad · s⁻¹)", "scale": {"domain": [-8, 312]}, "axis": {"values": [0,50,100,150,200,250,300]}},
    "y": {"field": "y", "type": "quantitative", "title": "R₁ᵨ/sin²θ (s⁻¹)", "scale": {"domain": [6.83, 8.24]}, "axis": {"values": [7,7.2,7.4,7.6,7.8,8,8.2], "format": ".1f", "labelExpr": "round(datum.value * 10) % 4 == 2 ? datum.label : ''"}}}},
  {"data": {"name": "fit"}, "transform": [{"filter": "datum.p == 'L50' && datum.m == 'b'"}], "mark": {"type": "line", "color": "#a44de0", "opacity": 0.8, "clip": true}, "encoding": {"x": {"field": "x", "type": "quantitative", "title": "ωₑ (10³ rad · s⁻¹)", "scale": {"domain": [-8, 312]}}, "y": {"field": "y", "type": "quantitative", "title": "R₁ᵨ/sin²θ (s⁻¹)", "scale": {"domain": [6.83, 8.24]}}}},
  {"data": {"name": "pts"}, "transform": [{"filter": "datum.p == 'L50'"}], "mark": {"type": "errorbar", "color": "#777", "thickness": 1.5}, "encoding": {"x": {"field": "x", "type": "quantitative", "title": "ωₑ (10³ rad · s⁻¹)", "scale": {"domain": [-8, 312]}}, "y": {"field": "y", "type": "quantitative", "title": "R₁ᵨ/sin²θ (s⁻¹)", "scale": {"domain": [6.83, 8.24]}}, "yError": {"field": "e"}}},
  {"data": {"name": "pts"}, "transform": [{"filter": "datum.p == 'L50'"}], "mark": {"type": "circle"}, "encoding": {"x": {"field": "x", "type": "quantitative", "title": "ωₑ (10³ rad · s⁻¹)", "scale": {"domain": [-8, 312]}}, "y": {"field": "y", "type": "quantitative", "title": "R₁ᵨ/sin²θ (s⁻¹)", "scale": {"domain": [6.83, 8.24]}}}},
  {"data": {"name": "notes"}, "transform": [{"filter": "datum.p == 'L50' && datum.k == 't'"}], "mark": {"type": "text", "align": "left", "dx": 45, "dy": 9.5}, "encoding": {"text": {"field": "s"}, "x": {"datum": -8, "type": "quantitative", "title": "ωₑ (10³ rad · s⁻¹)", "scale": {"domain": [-8, 312]}}, "y": {"datum": 8.24, "type": "quantitative", "title": "R₁ᵨ/sin²θ (s⁻¹)", "scale": {"domain": [6.83, 8.24]}}}},
  {"data": {"name": "notes"}, "transform": [{"filter": "datum.p == 'L50' && datum.k == 'f'"}], "mark": {"type": "text", "align": "left", "dx": 42.5, "dy": 16.2}, "encoding": {"text": {"field": "s"}, "x": {"datum": -8, "type": "quantitative", "title": "ωₑ (10³ rad · s⁻¹)", "scale": {"domain": [-8, 312]}}, "y": {"datum": 8.24, "type": "quantitative", "title": "R₁ᵨ/sin²θ (s⁻¹)", "scale": {"domain": [6.83, 8.24]}}}},
  {"data": {"name": "notes"}, "transform": [{"filter": "datum.p == 'L50' && datum.k == 'g'"}], "mark": {"type": "text", "align": "left", "dx": 58.5, "dy": 23, "color": "#a44de0"}, "encoding": {"text": {"field": "s"}, "x": {"datum": -8, "type": "quantitative", "title": "ωₑ (10³ rad · s⁻¹)", "scale": {"domain": [-8, 312]}}, "y": {"datum": 8.24, "type": "quantitative", "title": "R₁ᵨ/sin²θ (s⁻¹)", "scale": {"domain": [6.83, 8.24]}}}},
  {"data": {"name": "notes"}, "transform": [{"filter": "datum.p == 'L50' && datum.k == 'p'"}], "mark": {"type": "text", "align": "left", "dx": 5, "dy": -8}, "encoding": {"text": {"field": "s"}, "x": {"datum": -8, "type": "quantitative", "title": "ωₑ (10³ rad · s⁻¹)", "scale": {"domain": [-8, 312]}}, "y": {"datum": 6.83, "type": "quantitative", "title": "R₁ᵨ/sin²θ (s⁻¹)", "scale": {"domain": [6.83, 8.24]}}}}
 ]}
]},
{"spacing": 5, "hconcat": [
{"title": "E51 ¹Hᴺ", "width": 139, "height": 76,
 "layer": [
  {"data": {"name": "fit"}, "transform": [{"filter": "datum.p == 'E51' && datum.m == 'a'"}], "mark": {"type": "line", "color": "#e3202a", "clip": true},
   "encoding": {"x": {"field": "x", "type": "quantitative", "title": "ωₑ (10³ rad · s⁻¹)", "scale": {"domain": [-8, 312]}, "axis": {"values": [0,50,100,150,200,250,300]}},
    "y": {"field": "y", "type": "quantitative", "title": "R₁ᵨ/sin²θ (s⁻¹)", "scale": {"domain": [8.23, 13.15]}, "axis": {"values": [9,10,11,12,13], "format": "d"}}}},
  {"data": {"name": "fit"}, "transform": [{"filter": "datum.p == 'E51' && datum.m == 'b'"}], "mark": {"type": "line", "color": "#a44de0", "opacity": 0.8, "clip": true}, "encoding": {"x": {"field": "x", "type": "quantitative", "title": "ωₑ (10³ rad · s⁻¹)", "scale": {"domain": [-8, 312]}}, "y": {"field": "y", "type": "quantitative", "title": "R₁ᵨ/sin²θ (s⁻¹)", "scale": {"domain": [8.23, 13.15]}}}},
  {"data": {"name": "pts"}, "transform": [{"filter": "datum.p == 'E51'"}], "mark": {"type": "errorbar", "color": "#777", "thickness": 1.5}, "encoding": {"x": {"field": "x", "type": "quantitative", "title": "ωₑ (10³ rad · s⁻¹)", "scale": {"domain": [-8, 312]}}, "y": {"field": "y", "type": "quantitative", "title": "R₁ᵨ/sin²θ (s⁻¹)", "scale": {"domain": [8.23, 13.15]}}, "yError": {"field": "e"}}},
  {"data": {"name": "pts"}, "transform": [{"filter": "datum.p == 'E51'"}], "mark": {"type": "circle"}, "encoding": {"x": {"field": "x", "type": "quantitative", "title": "ωₑ (10³ rad · s⁻¹)", "scale": {"domain": [-8, 312]}}, "y": {"field": "y", "type": "quantitative", "title": "R₁ᵨ/sin²θ (s⁻¹)", "scale": {"domain": [8.23, 13.15]}}}},
  {"data": {"name": "notes"}, "transform": [{"filter": "datum.p == 'E51' && datum.k == 't'"}], "mark": {"type": "text", "align": "left", "dx": 45, "dy": 9.5}, "encoding": {"text": {"field": "s"}, "x": {"datum": -8, "type": "quantitative", "title": "ωₑ (10³ rad · s⁻¹)", "scale": {"domain": [-8, 312]}}, "y": {"datum": 13.15, "type": "quantitative", "title": "R₁ᵨ/sin²θ (s⁻¹)", "scale": {"domain": [8.23, 13.15]}}}},
  {"data": {"name": "notes"}, "transform": [{"filter": "datum.p == 'E51' && datum.k == 'f'"}], "mark": {"type": "text", "align": "left", "dx": 42.5, "dy": 16.2}, "encoding": {"text": {"field": "s"}, "x": {"datum": -8, "type": "quantitative", "title": "ωₑ (10³ rad · s⁻¹)", "scale": {"domain": [-8, 312]}}, "y": {"datum": 13.15, "type": "quantitative", "title": "R₁ᵨ/sin²θ (s⁻¹)", "scale": {"domain": [8.23, 13.15]}}}},
  {"data": {"name": "notes"}, "transform": [{"filter": "datum.p == 'E51' && datum.k == 'g'"}], "mark": {"type": "text", "align": "left", "dx": 58.5, "dy": 23, "color": "#a44de0"}, "encoding": {"text": {"field": "s"}, "x": {"datum": -8, "type": "quantitative", "title": "ωₑ (10³ rad · s⁻¹)", "scale": {"domain": [-8, 312]}}, "y": {"datum": 13.15, "type": "quantitative", "title": "R₁ᵨ/sin²θ (s⁻¹)", "scale": {"domain": [8.23, 13.15]}}}},
  {"data": {"name": "notes"}, "transform": [{"filter": "datum.p == 'E51' && datum.k == 'p'"}], "mark": {"type": "text", "align": "left", "dx": 5, "dy": -8}, "encoding": {"text": {"field": "s"}, "x": {"datum": -8, "type": "quantitative", "title": "ωₑ (10³ rad · s⁻¹)", "scale": {"domain": [-8, 312]}}, "y": {"datum": 8.23, "type": "quantitative", "title": "R₁ᵨ/sin²θ (s⁻¹)", "scale": {"domain": [8.23, 13.15]}}}}
 ]},
{"title": "T55 ¹Hᴺ", "width": 139, "height": 76,
 "layer": [
  {"data": {"name": "fit"}, "transform": [{"filter": "datum.p == 'T55' && datum.m == 'a'"}], "mark": {"type": "line", "color": "#e3202a", "clip": true},
   "encoding": {"x": {"field": "x", "type": "quantitative", "title": "ωₑ (10³ rad · s⁻¹)", "scale": {"domain": [-8, 312]}, "axis": {"values": [0,50,100,150,200,250,300]}},
    "y": {"field": "y", "type": "quantitative", "title": "R₁ᵨ/sin²θ (s⁻¹)", "scale": {"domain": [7.4, 10.74]}, "axis": {"values": [7.5,8,8.5,9,9.5,10,10.5], "format": ".1f", "labelExpr": "datum.value % 1 == 0.5 ? datum.label : ''"}}}},
  {"data": {"name": "fit"}, "transform": [{"filter": "datum.p == 'T55' && datum.m == 'b'"}], "mark": {"type": "line", "color": "#a44de0", "opacity": 0.8, "clip": true}, "encoding": {"x": {"field": "x", "type": "quantitative", "title": "ωₑ (10³ rad · s⁻¹)", "scale": {"domain": [-8, 312]}}, "y": {"field": "y", "type": "quantitative", "title": "R₁ᵨ/sin²θ (s⁻¹)", "scale": {"domain": [7.4, 10.74]}}}},
  {"data": {"name": "pts"}, "transform": [{"filter": "datum.p == 'T55'"}], "mark": {"type": "errorbar", "color": "#777", "thickness": 1.5}, "encoding": {"x": {"field": "x", "type": "quantitative", "title": "ωₑ (10³ rad · s⁻¹)", "scale": {"domain": [-8, 312]}}, "y": {"field": "y", "type": "quantitative", "title": "R₁ᵨ/sin²θ (s⁻¹)", "scale": {"domain": [7.4, 10.74]}}, "yError": {"field": "e"}}},
  {"data": {"name": "pts"}, "transform": [{"filter": "datum.p == 'T55'"}], "mark": {"type": "circle"}, "encoding": {"x": {"field": "x", "type": "quantitative", "title": "ωₑ (10³ rad · s⁻¹)", "scale": {"domain": [-8, 312]}}, "y": {"field": "y", "type": "quantitative", "title": "R₁ᵨ/sin²θ (s⁻¹)", "scale": {"domain": [7.4, 10.74]}}}},
  {"data": {"name": "notes"}, "transform": [{"filter": "datum.p == 'T55' && datum.k == 't'"}], "mark": {"type": "text", "align": "left", "dx": 45, "dy": 9.5}, "encoding": {"text": {"field": "s"}, "x": {"datum": -8, "type": "quantitative", "title": "ωₑ (10³ rad · s⁻¹)", "scale": {"domain": [-8, 312]}}, "y": {"datum": 10.74, "type": "quantitative", "title": "R₁ᵨ/sin²θ (s⁻¹)", "scale": {"domain": [7.4, 10.74]}}}},
  {"data": {"name": "notes"}, "transform": [{"filter": "datum.p == 'T55' && datum.k == 'f'"}], "mark": {"type": "text", "align": "left", "dx": 42.5, "dy": 16.2}, "encoding": {"text": {"field": "s"}, "x": {"datum": -8, "type": "quantitative", "title": "ωₑ (10³ rad · s⁻¹)", "scale": {"domain": [-8, 312]}}, "y": {"datum": 10.74, "type": "quantitative", "title": "R₁ᵨ/sin²θ (s⁻¹)", "scale": {"domain": [7.4, 10.74]}}}},
  {"data": {"name": "notes"}, "transform": [{"filter": "datum.p == 'T55' && datum.k == 'g'"}], "mark": {"type": "text", "align": "left", "dx": 58.5, "dy": 23, "color": "#a44de0"}, "encoding": {"text": {"field": "s"}, "x": {"datum": -8, "type": "quantitative", "title": "ωₑ (10³ rad · s⁻¹)", "scale": {"domain": [-8, 312]}}, "y": {"datum": 10.74, "type": "quantitative", "title": "R₁ᵨ/sin²θ (s⁻¹)", "scale": {"domain": [7.4, 10.74]}}}},
  {"data": {"name": "notes"}, "transform": [{"filter": "datum.p == 'T55' && datum.k == 'p'"}], "mark": {"type": "text", "align": "left", "dx": 5, "dy": -8}, "encoding": {"text": {"field": "s"}, "x": {"datum": -8, "type": "quantitative", "title": "ωₑ (10³ rad · s⁻¹)", "scale": {"domain": [-8, 312]}}, "y": {"datum": 7.4, "type": "quantitative", "title": "R₁ᵨ/sin²θ (s⁻¹)", "scale": {"domain": [7.4, 10.74]}}}}
 ]},
{"title": "I61 ¹Hᴺ", "width": 139, "height": 76,
 "layer": [
  {"data": {"name": "fit"}, "transform": [{"filter": "datum.p == 'I61' && datum.m == 'a'"}], "mark": {"type": "line", "color": "#e3202a", "clip": true},
   "encoding": {"x": {"field": "x", "type": "quantitative", "title": "ωₑ (10³ rad · s⁻¹)", "scale": {"domain": [-8, 312]}, "axis": {"values": [0,50,100,150,200,250,300]}},
    "y": {"field": "y", "type": "quantitative", "title": "R₁ᵨ/sin²θ (s⁻¹)", "scale": {"domain": [7.1, 11.07]}, "axis": {"values": [8,9,10,11], "format": "d"}}}},
  {"data": {"name": "fit"}, "transform": [{"filter": "datum.p == 'I61' && datum.m == 'b'"}], "mark": {"type": "line", "color": "#a44de0", "opacity": 0.8, "clip": true}, "encoding": {"x": {"field": "x", "type": "quantitative", "title": "ωₑ (10³ rad · s⁻¹)", "scale": {"domain": [-8, 312]}}, "y": {"field": "y", "type": "quantitative", "title": "R₁ᵨ/sin²θ (s⁻¹)", "scale": {"domain": [7.1, 11.07]}}}},
  {"data": {"name": "pts"}, "transform": [{"filter": "datum.p == 'I61'"}], "mark": {"type": "errorbar", "color": "#777", "thickness": 1.5}, "encoding": {"x": {"field": "x", "type": "quantitative", "title": "ωₑ (10³ rad · s⁻¹)", "scale": {"domain": [-8, 312]}}, "y": {"field": "y", "type": "quantitative", "title": "R₁ᵨ/sin²θ (s⁻¹)", "scale": {"domain": [7.1, 11.07]}}, "yError": {"field": "e"}}},
  {"data": {"name": "pts"}, "transform": [{"filter": "datum.p == 'I61'"}], "mark": {"type": "circle"}, "encoding": {"x": {"field": "x", "type": "quantitative", "title": "ωₑ (10³ rad · s⁻¹)", "scale": {"domain": [-8, 312]}}, "y": {"field": "y", "type": "quantitative", "title": "R₁ᵨ/sin²θ (s⁻¹)", "scale": {"domain": [7.1, 11.07]}}}},
  {"data": {"name": "notes"}, "transform": [{"filter": "datum.p == 'I61' && datum.k == 't'"}], "mark": {"type": "text", "align": "left", "dx": 45, "dy": 9.5}, "encoding": {"text": {"field": "s"}, "x": {"datum": -8, "type": "quantitative", "title": "ωₑ (10³ rad · s⁻¹)", "scale": {"domain": [-8, 312]}}, "y": {"datum": 11.07, "type": "quantitative", "title": "R₁ᵨ/sin²θ (s⁻¹)", "scale": {"domain": [7.1, 11.07]}}}},
  {"data": {"name": "notes"}, "transform": [{"filter": "datum.p == 'I61' && datum.k == 'f'"}], "mark": {"type": "text", "align": "left", "dx": 42.5, "dy": 16.2}, "encoding": {"text": {"field": "s"}, "x": {"datum": -8, "type": "quantitative", "title": "ωₑ (10³ rad · s⁻¹)", "scale": {"domain": [-8, 312]}}, "y": {"datum": 11.07, "type": "quantitative", "title": "R₁ᵨ/sin²θ (s⁻¹)", "scale": {"domain": [7.1, 11.07]}}}},
  {"data": {"name": "notes"}, "transform": [{"filter": "datum.p == 'I61' && datum.k == 'g'"}], "mark": {"type": "text", "align": "left", "dx": 58.5, "dy": 23, "color": "#a44de0"}, "encoding": {"text": {"field": "s"}, "x": {"datum": -8, "type": "quantitative", "title": "ωₑ (10³ rad · s⁻¹)", "scale": {"domain": [-8, 312]}}, "y": {"datum": 11.07, "type": "quantitative", "title": "R₁ᵨ/sin²θ (s⁻¹)", "scale": {"domain": [7.1, 11.07]}}}},
  {"data": {"name": "notes"}, "transform": [{"filter": "datum.p == 'I61' && datum.k == 'p'"}], "mark": {"type": "text", "align": "left", "dx": 5, "dy": -8}, "encoding": {"text": {"field": "s"}, "x": {"datum": -8, "type": "quantitative", "title": "ωₑ (10³ rad · s⁻¹)", "scale": {"domain": [-8, 312]}}, "y": {"datum": 7.1, "type": "quantitative", "title": "R₁ᵨ/sin²θ (s⁻¹)", "scale": {"domain": [7.1, 11.07]}}}}
 ]}
]}
]
},
{
"spacing": 0,
"vconcat": [
{"spacing": 5, "hconcat": [
{"title": {"text": "E24 ¹Hᴺ", "offset": -9.5}, "width": 139, "height": 82,
 "layer": [
  {"data": {"name": "fit"}, "transform": [{"filter": "datum.p == 'E24' && datum.m == 'a'"}], "mark": {"type": "line", "color": "#e3202a", "clip": true},
   "encoding": {"x": {"field": "x", "type": "quantitative", "title": "ωₑ (10³ rad · s⁻¹)", "scale": {"domain": [-8, 312]}, "axis": {"values": [0,50,100,150,200,250,300]}},
    "y": {"field": "y", "type": "quantitative", "title": "R₁ᵨ/sin²θ (s⁻¹)", "scale": {"domain": [-4.5, 107.7]}, "axis": {"values": [0,20,40,60,80,100], "format": "d"}}}},
  {"data": {"name": "fit"}, "transform": [{"filter": "datum.p == 'E24' && datum.m == 'b'"}], "mark": {"type": "line", "color": "#a44de0", "opacity": 0.8, "clip": true}, "encoding": {"x": {"field": "x", "type": "quantitative", "title": "ωₑ (10³ rad · s⁻¹)", "scale": {"domain": [-8, 312]}}, "y": {"field": "y", "type": "quantitative", "title": "R₁ᵨ/sin²θ (s⁻¹)", "scale": {"domain": [-4.5, 107.7]}}}},
  {"data": {"name": "pts"}, "transform": [{"filter": "datum.p == 'E24'"}], "mark": {"type": "errorbar", "color": "#777", "thickness": 1.5}, "encoding": {"x": {"field": "x", "type": "quantitative", "title": "ωₑ (10³ rad · s⁻¹)", "scale": {"domain": [-8, 312]}}, "y": {"field": "y", "type": "quantitative", "title": "R₁ᵨ/sin²θ (s⁻¹)", "scale": {"domain": [-4.5, 107.7]}}, "yError": {"field": "e"}}},
  {"data": {"name": "pts"}, "transform": [{"filter": "datum.p == 'E24'"}], "mark": {"type": "circle"}, "encoding": {"x": {"field": "x", "type": "quantitative", "title": "ωₑ (10³ rad · s⁻¹)", "scale": {"domain": [-8, 312]}}, "y": {"field": "y", "type": "quantitative", "title": "R₁ᵨ/sin²θ (s⁻¹)", "scale": {"domain": [-4.5, 107.7]}}}},
  {"data": {"name": "notes"}, "transform": [{"filter": "datum.p == 'E24' && datum.k == 'L'"}], "mark": {"type": "text", "align": "left", "dx": -22, "dy": -7, "fontSize": 11, "fontWeight": "bold", "color": "#000"}, "encoding": {"text": {"field": "s"}, "x": {"datum": -8, "type": "quantitative", "title": "ωₑ (10³ rad · s⁻¹)", "scale": {"domain": [-8, 312]}}, "y": {"datum": 107.7, "type": "quantitative", "title": "R₁ᵨ/sin²θ (s⁻¹)", "scale": {"domain": [-4.5, 107.7]}}}},
  {"data": {"name": "notes"}, "transform": [{"filter": "datum.p == 'E24' && datum.k == 't'"}], "mark": {"type": "text", "align": "left", "dx": 5, "dy": -32}, "encoding": {"text": {"field": "s"}, "x": {"datum": -8, "type": "quantitative", "title": "ωₑ (10³ rad · s⁻¹)", "scale": {"domain": [-8, 312]}}, "y": {"datum": -4.5, "type": "quantitative", "title": "R₁ᵨ/sin²θ (s⁻¹)", "scale": {"domain": [-4.5, 107.7]}}}},
  {"data": {"name": "notes"}, "transform": [{"filter": "datum.p == 'E24' && datum.k == 'f'"}], "mark": {"type": "text", "align": "left", "dx": 5, "dy": -22.5}, "encoding": {"text": {"field": "s"}, "x": {"datum": -8, "type": "quantitative", "title": "ωₑ (10³ rad · s⁻¹)", "scale": {"domain": [-8, 312]}}, "y": {"datum": -4.5, "type": "quantitative", "title": "R₁ᵨ/sin²θ (s⁻¹)", "scale": {"domain": [-4.5, 107.7]}}}},
  {"data": {"name": "notes"}, "transform": [{"filter": "datum.p == 'E24' && datum.k == 'g'"}], "mark": {"type": "text", "align": "left", "dx": 21, "dy": -13.5, "color": "#a44de0"}, "encoding": {"text": {"field": "s"}, "x": {"datum": -8, "type": "quantitative", "title": "ωₑ (10³ rad · s⁻¹)", "scale": {"domain": [-8, 312]}}, "y": {"datum": -4.5, "type": "quantitative", "title": "R₁ᵨ/sin²θ (s⁻¹)", "scale": {"domain": [-4.5, 107.7]}}}},
  {"data": {"name": "notes"}, "transform": [{"filter": "datum.p == 'E24' && datum.k == 'p'"}], "mark": {"type": "text", "align": "right", "dx": -6, "dy": 11.7}, "encoding": {"text": {"field": "s"}, "x": {"datum": 312, "type": "quantitative", "title": "ωₑ (10³ rad · s⁻¹)", "scale": {"domain": [-8, 312]}}, "y": {"datum": 107.7, "type": "quantitative", "title": "R₁ᵨ/sin²θ (s⁻¹)", "scale": {"domain": [-4.5, 107.7]}}}}
 ]},
{"title": "L43 ¹Hᴺ", "width": 139, "height": 82,
 "layer": [
  {"data": {"name": "fit"}, "transform": [{"filter": "datum.p == 'L43e' && datum.m == 'a'"}], "mark": {"type": "line", "color": "#e3202a", "clip": true},
   "encoding": {"x": {"field": "x", "type": "quantitative", "title": "ωₑ (10³ rad · s⁻¹)", "scale": {"domain": [-8, 312]}, "axis": {"values": [0,50,100,150,200,250,300]}},
    "y": {"field": "y", "type": "quantitative", "title": "R₁ᵨ/sin²θ (s⁻¹)", "scale": {"domain": [4.09, 5.6]}, "axis": {"values": [4.2,4.4,4.6,4.8,5,5.2,5.4], "format": ".1f", "labelExpr": "round(datum.value * 10) % 4 == 2 ? datum.label : ''"}}}},
  {"data": {"name": "fit"}, "transform": [{"filter": "datum.p == 'L43e' && datum.m == 'b'"}], "mark": {"type": "line", "color": "#a44de0", "opacity": 0.8, "clip": true}, "encoding": {"x": {"field": "x", "type": "quantitative", "title": "ωₑ (10³ rad · s⁻¹)", "scale": {"domain": [-8, 312]}}, "y": {"field": "y", "type": "quantitative", "title": "R₁ᵨ/sin²θ (s⁻¹)", "scale": {"domain": [4.09, 5.6]}}}},
  {"data": {"name": "pts"}, "transform": [{"filter": "datum.p == 'L43e'"}], "mark": {"type": "errorbar", "color": "#777", "thickness": 1.5}, "encoding": {"x": {"field": "x", "type": "quantitative", "title": "ωₑ (10³ rad · s⁻¹)", "scale": {"domain": [-8, 312]}}, "y": {"field": "y", "type": "quantitative", "title": "R₁ᵨ/sin²θ (s⁻¹)", "scale": {"domain": [4.09, 5.6]}}, "yError": {"field": "e"}}},
  {"data": {"name": "pts"}, "transform": [{"filter": "datum.p == 'L43e'"}], "mark": {"type": "circle"}, "encoding": {"x": {"field": "x", "type": "quantitative", "title": "ωₑ (10³ rad · s⁻¹)", "scale": {"domain": [-8, 312]}}, "y": {"field": "y", "type": "quantitative", "title": "R₁ᵨ/sin²θ (s⁻¹)", "scale": {"domain": [4.09, 5.6]}}}},
  {"data": {"name": "notes"}, "transform": [{"filter": "datum.p == 'L43e' && datum.k == 't'"}], "mark": {"type": "text", "align": "left", "dx": 5, "dy": -32}, "encoding": {"text": {"field": "s"}, "x": {"datum": -8, "type": "quantitative", "title": "ωₑ (10³ rad · s⁻¹)", "scale": {"domain": [-8, 312]}}, "y": {"datum": 4.09, "type": "quantitative", "title": "R₁ᵨ/sin²θ (s⁻¹)", "scale": {"domain": [4.09, 5.6]}}}},
  {"data": {"name": "notes"}, "transform": [{"filter": "datum.p == 'L43e' && datum.k == 'f'"}], "mark": {"type": "text", "align": "left", "dx": 5, "dy": -22.5}, "encoding": {"text": {"field": "s"}, "x": {"datum": -8, "type": "quantitative", "title": "ωₑ (10³ rad · s⁻¹)", "scale": {"domain": [-8, 312]}}, "y": {"datum": 4.09, "type": "quantitative", "title": "R₁ᵨ/sin²θ (s⁻¹)", "scale": {"domain": [4.09, 5.6]}}}},
  {"data": {"name": "notes"}, "transform": [{"filter": "datum.p == 'L43e' && datum.k == 'g'"}], "mark": {"type": "text", "align": "left", "dx": 21, "dy": -13.5, "color": "#a44de0"}, "encoding": {"text": {"field": "s"}, "x": {"datum": -8, "type": "quantitative", "title": "ωₑ (10³ rad · s⁻¹)", "scale": {"domain": [-8, 312]}}, "y": {"datum": 4.09, "type": "quantitative", "title": "R₁ᵨ/sin²θ (s⁻¹)", "scale": {"domain": [4.09, 5.6]}}}},
  {"data": {"name": "notes"}, "transform": [{"filter": "datum.p == 'L43e' && datum.k == 'p'"}], "mark": {"type": "text", "align": "right", "dx": -6, "dy": 11.7}, "encoding": {"text": {"field": "s"}, "x": {"datum": 312, "type": "quantitative", "title": "ωₑ (10³ rad · s⁻¹)", "scale": {"domain": [-8, 312]}}, "y": {"datum": 5.6, "type": "quantitative", "title": "R₁ᵨ/sin²θ (s⁻¹)", "scale": {"domain": [4.09, 5.6]}}}}
 ]},
{"title": "E51 ¹Hᴺ", "width": 139, "height": 82,
 "layer": [
  {"data": {"name": "fit"}, "transform": [{"filter": "datum.p == 'E51e' && datum.m == 'a'"}], "mark": {"type": "line", "color": "#e3202a", "clip": true},
   "encoding": {"x": {"field": "x", "type": "quantitative", "title": "ωₑ (10³ rad · s⁻¹)", "scale": {"domain": [-8, 312]}, "axis": {"values": [0,50,100,150,200,250,300]}},
    "y": {"field": "y", "type": "quantitative", "title": "R₁ᵨ/sin²θ (s⁻¹)", "scale": {"domain": [4.86, 6.75]}, "axis": {"values": [5,5.5,6,6.5], "format": ".1f"}}}},
  {"data": {"name": "fit"}, "transform": [{"filter": "datum.p == 'E51e' && datum.m == 'b'"}], "mark": {"type": "line", "color": "#a44de0", "opacity": 0.8, "clip": true}, "encoding": {"x": {"field": "x", "type": "quantitative", "title": "ωₑ (10³ rad · s⁻¹)", "scale": {"domain": [-8, 312]}}, "y": {"field": "y", "type": "quantitative", "title": "R₁ᵨ/sin²θ (s⁻¹)", "scale": {"domain": [4.86, 6.75]}}}},
  {"data": {"name": "pts"}, "transform": [{"filter": "datum.p == 'E51e'"}], "mark": {"type": "errorbar", "color": "#777", "thickness": 1.5}, "encoding": {"x": {"field": "x", "type": "quantitative", "title": "ωₑ (10³ rad · s⁻¹)", "scale": {"domain": [-8, 312]}}, "y": {"field": "y", "type": "quantitative", "title": "R₁ᵨ/sin²θ (s⁻¹)", "scale": {"domain": [4.86, 6.75]}}, "yError": {"field": "e"}}},
  {"data": {"name": "pts"}, "transform": [{"filter": "datum.p == 'E51e'"}], "mark": {"type": "circle"}, "encoding": {"x": {"field": "x", "type": "quantitative", "title": "ωₑ (10³ rad · s⁻¹)", "scale": {"domain": [-8, 312]}}, "y": {"field": "y", "type": "quantitative", "title": "R₁ᵨ/sin²θ (s⁻¹)", "scale": {"domain": [4.86, 6.75]}}}},
  {"data": {"name": "notes"}, "transform": [{"filter": "datum.p == 'E51e' && datum.k == 't'"}], "mark": {"type": "text", "align": "left", "dx": 5, "dy": -32}, "encoding": {"text": {"field": "s"}, "x": {"datum": -8, "type": "quantitative", "title": "ωₑ (10³ rad · s⁻¹)", "scale": {"domain": [-8, 312]}}, "y": {"datum": 4.86, "type": "quantitative", "title": "R₁ᵨ/sin²θ (s⁻¹)", "scale": {"domain": [4.86, 6.75]}}}},
  {"data": {"name": "notes"}, "transform": [{"filter": "datum.p == 'E51e' && datum.k == 'f'"}], "mark": {"type": "text", "align": "left", "dx": 5, "dy": -22.5}, "encoding": {"text": {"field": "s"}, "x": {"datum": -8, "type": "quantitative", "title": "ωₑ (10³ rad · s⁻¹)", "scale": {"domain": [-8, 312]}}, "y": {"datum": 4.86, "type": "quantitative", "title": "R₁ᵨ/sin²θ (s⁻¹)", "scale": {"domain": [4.86, 6.75]}}}},
  {"data": {"name": "notes"}, "transform": [{"filter": "datum.p == 'E51e' && datum.k == 'g'"}], "mark": {"type": "text", "align": "left", "dx": 21, "dy": -13.5, "color": "#a44de0"}, "encoding": {"text": {"field": "s"}, "x": {"datum": -8, "type": "quantitative", "title": "ωₑ (10³ rad · s⁻¹)", "scale": {"domain": [-8, 312]}}, "y": {"datum": 4.86, "type": "quantitative", "title": "R₁ᵨ/sin²θ (s⁻¹)", "scale": {"domain": [4.86, 6.75]}}}},
  {"data": {"name": "notes"}, "transform": [{"filter": "datum.p == 'E51e' && datum.k == 'p'"}], "mark": {"type": "text", "align": "right", "dx": -6, "dy": 11.7}, "encoding": {"text": {"field": "s"}, "x": {"datum": 312, "type": "quantitative", "title": "ωₑ (10³ rad · s⁻¹)", "scale": {"domain": [-8, 312]}}, "y": {"datum": 6.75, "type": "quantitative", "title": "R₁ᵨ/sin²θ (s⁻¹)", "scale": {"domain": [4.86, 6.75]}}}}
 ]}
]},
{"spacing": 5, "hconcat": [
{"title": "G53 ¹Hᴺ", "width": 139, "height": 87,
 "layer": [
  {"data": {"name": "fit"}, "transform": [{"filter": "datum.p == 'G53' && datum.m == 'a'"}], "mark": {"type": "line", "color": "#e3202a", "clip": true},
   "encoding": {"x": {"field": "x", "type": "quantitative", "title": "ωₑ (10³ rad · s⁻¹)", "scale": {"domain": [-8, 312]}, "axis": {"values": [0,50,100,150,200,250,300]}},
    "y": {"field": "y", "type": "quantitative", "title": "R₁ᵨ/sin²θ (s⁻¹)", "scale": {"domain": [-7, 130]}, "axis": {"values": [0,20,40,60,80,100], "format": "d", "labelExpr": "datum.value < 100 ? datum.label : ''"}}}},
  {"data": {"name": "fit"}, "transform": [{"filter": "datum.p == 'G53' && datum.m == 'b'"}], "mark": {"type": "line", "color": "#a44de0", "opacity": 0.8, "clip": true}, "encoding": {"x": {"field": "x", "type": "quantitative", "title": "ωₑ (10³ rad · s⁻¹)", "scale": {"domain": [-8, 312]}}, "y": {"field": "y", "type": "quantitative", "title": "R₁ᵨ/sin²θ (s⁻¹)", "scale": {"domain": [-7, 130]}}}},
  {"data": {"name": "pts"}, "transform": [{"filter": "datum.p == 'G53'"}], "mark": {"type": "errorbar", "color": "#777", "thickness": 1.5}, "encoding": {"x": {"field": "x", "type": "quantitative", "title": "ωₑ (10³ rad · s⁻¹)", "scale": {"domain": [-8, 312]}}, "y": {"field": "y", "type": "quantitative", "title": "R₁ᵨ/sin²θ (s⁻¹)", "scale": {"domain": [-7, 130]}}, "yError": {"field": "e"}}},
  {"data": {"name": "pts"}, "transform": [{"filter": "datum.p == 'G53'"}], "mark": {"type": "circle"}, "encoding": {"x": {"field": "x", "type": "quantitative", "title": "ωₑ (10³ rad · s⁻¹)", "scale": {"domain": [-8, 312]}}, "y": {"field": "y", "type": "quantitative", "title": "R₁ᵨ/sin²θ (s⁻¹)", "scale": {"domain": [-7, 130]}}}},
  {"data": {"name": "notes"}, "transform": [{"filter": "datum.p == 'G53' && datum.k == 't'"}], "mark": {"type": "text", "align": "left", "dx": 5, "dy": -31.5}, "encoding": {"text": {"field": "s"}, "x": {"datum": -8, "type": "quantitative", "title": "ωₑ (10³ rad · s⁻¹)", "scale": {"domain": [-8, 312]}}, "y": {"datum": -7, "type": "quantitative", "title": "R₁ᵨ/sin²θ (s⁻¹)", "scale": {"domain": [-7, 130]}}}},
  {"data": {"name": "notes"}, "transform": [{"filter": "datum.p == 'G53' && datum.k == 'f'"}], "mark": {"type": "text", "align": "left", "dx": 5, "dy": -22.5}, "encoding": {"text": {"field": "s"}, "x": {"datum": -8, "type": "quantitative", "title": "ωₑ (10³ rad · s⁻¹)", "scale": {"domain": [-8, 312]}}, "y": {"datum": -7, "type": "quantitative", "title": "R₁ᵨ/sin²θ (s⁻¹)", "scale": {"domain": [-7, 130]}}}},
  {"data": {"name": "notes"}, "transform": [{"filter": "datum.p == 'G53' && datum.k == 'g'"}], "mark": {"type": "text", "align": "left", "dx": 21, "dy": -13.5, "color": "#a44de0"}, "encoding": {"text": {"field": "s"}, "x": {"datum": -8, "type": "quantitative", "title": "ωₑ (10³ rad · s⁻¹)", "scale": {"domain": [-8, 312]}}, "y": {"datum": -7, "type": "quantitative", "title": "R₁ᵨ/sin²θ (s⁻¹)", "scale": {"domain": [-7, 130]}}}},
  {"data": {"name": "notes"}, "transform": [{"filter": "datum.p == 'G53' && datum.k == 'p'"}], "mark": {"type": "text", "align": "right", "dx": -6, "dy": 11.7}, "encoding": {"text": {"field": "s"}, "x": {"datum": 312, "type": "quantitative", "title": "ωₑ (10³ rad · s⁻¹)", "scale": {"domain": [-8, 312]}}, "y": {"datum": 130, "type": "quantitative", "title": "R₁ᵨ/sin²θ (s⁻¹)", "scale": {"domain": [-7, 130]}}}}
 ]},
{"title": "I61 ¹Hᴺ", "width": 139, "height": 87,
 "layer": [
  {"data": {"name": "fit"}, "transform": [{"filter": "datum.p == 'I61e' && datum.m == 'a'"}], "mark": {"type": "line", "color": "#e3202a", "clip": true},
   "encoding": {"x": {"field": "x", "type": "quantitative", "title": "ωₑ (10³ rad · s⁻¹)", "scale": {"domain": [-8, 312]}, "axis": {"values": [0,50,100,150,200,250,300]}},
    "y": {"field": "y", "type": "quantitative", "title": "R₁ᵨ/sin²θ (s⁻¹)", "scale": {"domain": [3.93, 5.84]}, "axis": {"values": [4.5,5,5.5], "format": ".1f"}}}},
  {"data": {"name": "fit"}, "transform": [{"filter": "datum.p == 'I61e' && datum.m == 'b'"}], "mark": {"type": "line", "color": "#a44de0", "opacity": 0.8, "clip": true}, "encoding": {"x": {"field": "x", "type": "quantitative", "title": "ωₑ (10³ rad · s⁻¹)", "scale": {"domain": [-8, 312]}}, "y": {"field": "y", "type": "quantitative", "title": "R₁ᵨ/sin²θ (s⁻¹)", "scale": {"domain": [3.93, 5.84]}}}},
  {"data": {"name": "pts"}, "transform": [{"filter": "datum.p == 'I61e'"}], "mark": {"type": "errorbar", "color": "#777", "thickness": 1.5}, "encoding": {"x": {"field": "x", "type": "quantitative", "title": "ωₑ (10³ rad · s⁻¹)", "scale": {"domain": [-8, 312]}}, "y": {"field": "y", "type": "quantitative", "title": "R₁ᵨ/sin²θ (s⁻¹)", "scale": {"domain": [3.93, 5.84]}}, "yError": {"field": "e"}}},
  {"data": {"name": "pts"}, "transform": [{"filter": "datum.p == 'I61e'"}], "mark": {"type": "circle"}, "encoding": {"x": {"field": "x", "type": "quantitative", "title": "ωₑ (10³ rad · s⁻¹)", "scale": {"domain": [-8, 312]}}, "y": {"field": "y", "type": "quantitative", "title": "R₁ᵨ/sin²θ (s⁻¹)", "scale": {"domain": [3.93, 5.84]}}}},
  {"data": {"name": "notes"}, "transform": [{"filter": "datum.p == 'I61e' && datum.k == 't'"}], "mark": {"type": "text", "align": "left", "dx": 5, "dy": -31.5}, "encoding": {"text": {"field": "s"}, "x": {"datum": -8, "type": "quantitative", "title": "ωₑ (10³ rad · s⁻¹)", "scale": {"domain": [-8, 312]}}, "y": {"datum": 3.93, "type": "quantitative", "title": "R₁ᵨ/sin²θ (s⁻¹)", "scale": {"domain": [3.93, 5.84]}}}},
  {"data": {"name": "notes"}, "transform": [{"filter": "datum.p == 'I61e' && datum.k == 'f'"}], "mark": {"type": "text", "align": "left", "dx": 5, "dy": -22.5}, "encoding": {"text": {"field": "s"}, "x": {"datum": -8, "type": "quantitative", "title": "ωₑ (10³ rad · s⁻¹)", "scale": {"domain": [-8, 312]}}, "y": {"datum": 3.93, "type": "quantitative", "title": "R₁ᵨ/sin²θ (s⁻¹)", "scale": {"domain": [3.93, 5.84]}}}},
  {"data": {"name": "notes"}, "transform": [{"filter": "datum.p == 'I61e' && datum.k == 'g'"}], "mark": {"type": "text", "align": "left", "dx": 21, "dy": -13.5, "color": "#a44de0"}, "encoding": {"text": {"field": "s"}, "x": {"datum": -8, "type": "quantitative", "title": "ωₑ (10³ rad · s⁻¹)", "scale": {"domain": [-8, 312]}}, "y": {"datum": 3.93, "type": "quantitative", "title": "R₁ᵨ/sin²θ (s⁻¹)", "scale": {"domain": [3.93, 5.84]}}}},
  {"data": {"name": "notes"}, "transform": [{"filter": "datum.p == 'I61e' && datum.k == 'p'"}], "mark": {"type": "text", "align": "right", "dx": -6, "dy": 11.7}, "encoding": {"text": {"field": "s"}, "x": {"datum": 312, "type": "quantitative", "title": "ωₑ (10³ rad · s⁻¹)", "scale": {"domain": [-8, 312]}}, "y": {"datum": 5.84, "type": "quantitative", "title": "R₁ᵨ/sin²θ (s⁻¹)", "scale": {"domain": [3.93, 5.84]}}}}
 ]}
]}
]
}
]
}
